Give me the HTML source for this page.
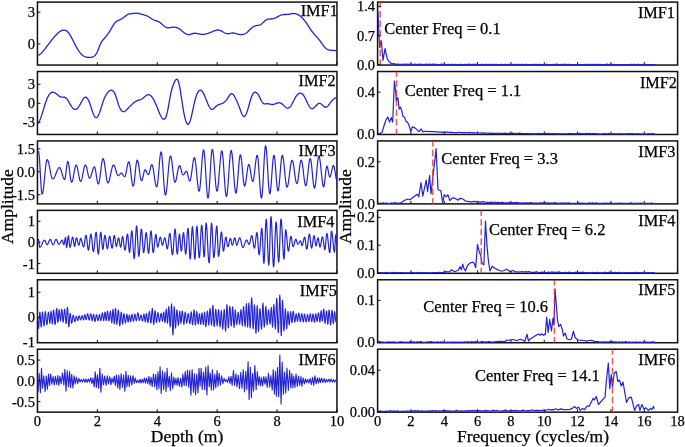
<!DOCTYPE html>
<html><head><meta charset="utf-8"><style>
html,body{margin:0;padding:0;background:#fff;}
svg{display:block;will-change:transform;filter:blur(0.3px);}
text{font-family:"Liberation Serif",serif;fill:#000;stroke:#000;stroke-width:0.25px;}
.tk{font-size:14.5px;}
.imf{font-size:16.3px;}
.cf{font-size:16.5px;}
.ax{font-size:17.5px;}
</style></head><body>
<svg width="685" height="447" viewBox="0 0 685 447">
<rect width="685" height="447" fill="#fff"/>
<clipPath id="cL0"><rect x="37.45" y="2.1" width="299.5" height="62.949999999999996"/></clipPath>
<clipPath id="cR0"><rect x="377.6" y="2.1" width="300.0" height="64.14999999999999"/></clipPath>
<rect x="37.45" y="2.1" width="299.5" height="62.949999999999996" fill="none" stroke="#111" stroke-width="1.5"/>
<rect x="377.6" y="2.1" width="300.0" height="62.949999999999996" fill="none" stroke="#111" stroke-width="1.5"/>
<line x1="37.45" y1="65.05" x2="37.45" y2="62.05" stroke="#111" stroke-width="1"/>
<line x1="97.35" y1="65.05" x2="97.35" y2="62.05" stroke="#111" stroke-width="1"/>
<line x1="157.25" y1="65.05" x2="157.25" y2="62.05" stroke="#111" stroke-width="1"/>
<line x1="217.14999999999998" y1="65.05" x2="217.14999999999998" y2="62.05" stroke="#111" stroke-width="1"/>
<line x1="277.05" y1="65.05" x2="277.05" y2="62.05" stroke="#111" stroke-width="1"/>
<line x1="336.95" y1="65.05" x2="336.95" y2="62.05" stroke="#111" stroke-width="1"/>
<line x1="377.60" y1="65.05" x2="377.60" y2="62.05" stroke="#111" stroke-width="1"/>
<line x1="410.93" y1="65.05" x2="410.93" y2="62.05" stroke="#111" stroke-width="1"/>
<line x1="444.27" y1="65.05" x2="444.27" y2="62.05" stroke="#111" stroke-width="1"/>
<line x1="477.60" y1="65.05" x2="477.60" y2="62.05" stroke="#111" stroke-width="1"/>
<line x1="510.93" y1="65.05" x2="510.93" y2="62.05" stroke="#111" stroke-width="1"/>
<line x1="544.27" y1="65.05" x2="544.27" y2="62.05" stroke="#111" stroke-width="1"/>
<line x1="577.60" y1="65.05" x2="577.60" y2="62.05" stroke="#111" stroke-width="1"/>
<line x1="610.93" y1="65.05" x2="610.93" y2="62.05" stroke="#111" stroke-width="1"/>
<line x1="644.27" y1="65.05" x2="644.27" y2="62.05" stroke="#111" stroke-width="1"/>
<line x1="677.60" y1="65.05" x2="677.60" y2="62.05" stroke="#111" stroke-width="1"/>
<path d="M37.00,55.20 37.50,55.24 38.00,55.20 38.50,55.08 39.00,54.89 39.50,54.62 40.00,54.30 40.50,53.92 41.00,53.49 41.50,53.01 42.00,52.49 42.50,51.94 43.00,51.36 43.50,50.75 44.00,50.13 44.50,49.50 45.00,48.86 45.50,48.21 46.00,47.56 46.50,46.91 47.00,46.25 47.50,45.59 48.00,44.93 48.50,44.27 49.00,43.61 49.50,42.95 50.00,42.29 50.50,41.64 51.00,40.99 51.50,40.34 52.00,39.70 52.50,39.07 53.00,38.44 53.50,37.83 54.00,37.22 54.50,36.63 55.00,36.06 55.50,35.50 56.00,34.95 56.50,34.43 57.00,33.93 57.50,33.45 58.00,33.00 58.50,32.57 59.00,32.17 59.50,31.80 60.00,31.47 60.50,31.16 61.00,30.89 61.50,30.65 62.00,30.46 62.50,30.30 63.00,30.18 63.50,30.11 64.00,30.09 64.50,30.13 65.00,30.22 65.50,30.37 66.00,30.59 66.50,30.88 67.00,31.25 67.50,31.68 68.00,32.19 68.50,32.77 69.00,33.42 69.50,34.14 70.00,34.92 70.50,35.76 71.00,36.65 71.50,37.58 72.00,38.54 72.50,39.52 73.00,40.51 73.50,41.51 74.00,42.51 74.50,43.50 75.00,44.47 75.50,45.42 76.00,46.34 76.50,47.23 77.00,48.10 77.50,48.94 78.00,49.74 78.50,50.51 79.00,51.25 79.50,51.94 80.00,52.59 80.50,53.20 81.00,53.76 81.50,54.28 82.00,54.75 82.50,55.18 83.00,55.57 83.50,55.91 84.00,56.22 84.50,56.48 85.00,56.70 85.50,56.88 86.00,57.03 86.50,57.15 87.00,57.24 87.50,57.31 88.00,57.36 88.50,57.39 89.00,57.41 89.50,57.42 90.00,57.41 90.50,57.38 91.00,57.33 91.50,57.25 92.00,57.14 92.50,56.98 93.00,56.79 93.50,56.55 94.00,56.26 94.50,55.89 95.00,55.44 95.50,54.89 96.00,54.23 96.50,53.43 97.00,52.50 97.50,51.42 98.00,50.22 98.50,48.95 99.00,47.64 99.50,46.34 100.00,45.09 100.50,43.93 101.00,42.90 101.50,42.00 102.00,41.21 102.50,40.51 103.00,39.88 103.50,39.30 104.00,38.75 104.50,38.20 105.00,37.64 105.50,37.06 106.00,36.46 106.50,35.84 107.00,35.19 107.50,34.53 108.00,33.84 108.50,33.13 109.00,32.39 109.50,31.62 110.00,30.82 110.50,30.00 111.00,29.15 111.50,28.28 112.00,27.40 112.50,26.53 113.00,25.69 113.50,24.88 114.00,24.12 114.50,23.42 115.00,22.80 115.50,22.26 116.00,21.80 116.50,21.41 117.00,21.07 117.50,20.78 118.00,20.53 118.50,20.30 119.00,20.09 119.50,19.89 120.00,19.68 120.50,19.45 121.00,19.20 121.50,18.92 122.00,18.60 122.50,18.26 123.00,17.90 123.50,17.53 124.00,17.14 124.50,16.76 125.00,16.37 125.50,16.00 126.00,15.63 126.50,15.29 127.00,14.97 127.50,14.68 128.00,14.42 128.50,14.20 129.00,14.03 129.50,13.89 130.00,13.79 130.50,13.71 131.00,13.66 131.50,13.61 132.00,13.58 132.50,13.54 133.00,13.50 133.50,13.45 134.00,13.39 134.50,13.33 135.00,13.28 135.50,13.23 136.00,13.20 136.50,13.19 137.00,13.20 137.50,13.24 138.00,13.31 138.50,13.40 139.00,13.51 139.50,13.64 140.00,13.77 140.50,13.92 141.00,14.06 141.50,14.20 142.00,14.34 142.50,14.47 143.00,14.60 143.50,14.74 144.00,14.88 144.50,15.02 145.00,15.18 145.50,15.35 146.00,15.53 146.50,15.73 147.00,15.95 147.50,16.20 148.00,16.47 148.50,16.76 149.00,17.07 149.50,17.39 150.00,17.71 150.50,18.04 151.00,18.37 151.50,18.69 152.00,19.00 152.50,19.29 153.00,19.56 153.50,19.80 154.00,20.02 154.50,20.21 155.00,20.38 155.50,20.54 156.00,20.70 156.50,20.86 157.00,21.03 157.50,21.21 158.00,21.41 158.50,21.64 159.00,21.90 159.50,22.20 160.00,22.55 160.50,22.93 161.00,23.34 161.50,23.78 162.00,24.22 162.50,24.68 163.00,25.13 163.50,25.57 164.00,25.99 164.50,26.38 165.00,26.74 165.50,27.05 166.00,27.31 166.50,27.51 167.00,27.66 167.50,27.75 168.00,27.79 168.50,27.80 169.00,27.77 169.50,27.72 170.00,27.65 170.50,27.57 171.00,27.48 171.50,27.40 172.00,27.33 172.50,27.26 173.00,27.22 173.50,27.19 174.00,27.18 174.50,27.19 175.00,27.23 175.50,27.30 176.00,27.40 176.50,27.53 177.00,27.70 177.50,27.89 178.00,28.12 178.50,28.38 179.00,28.67 179.50,28.98 180.00,29.33 180.50,29.70 181.00,30.10 181.50,30.51 182.00,30.94 182.50,31.37 183.00,31.80 183.50,32.22 184.00,32.63 184.50,33.02 185.00,33.37 185.50,33.69 186.00,33.97 186.50,34.20 187.00,34.37 187.50,34.49 188.00,34.56 188.50,34.58 189.00,34.56 189.50,34.50 190.00,34.40 190.50,34.27 191.00,34.12 191.50,33.96 192.00,33.80 192.50,33.64 193.00,33.50 193.50,33.38 194.00,33.30 194.50,33.26 195.00,33.25 195.50,33.28 196.00,33.33 196.50,33.41 197.00,33.50 197.50,33.61 198.00,33.73 198.50,33.85 199.00,33.97 199.50,34.08 200.00,34.18 200.50,34.27 201.00,34.34 201.50,34.38 202.00,34.40 202.50,34.41 203.00,34.39 203.50,34.36 204.00,34.30 204.50,34.24 205.00,34.15 205.50,34.05 206.00,33.94 206.50,33.81 207.00,33.68 207.50,33.53 208.00,33.37 208.50,33.20 209.00,33.02 209.50,32.84 210.00,32.64 210.50,32.45 211.00,32.25 211.50,32.04 212.00,31.83 212.50,31.62 213.00,31.41 213.50,31.20 214.00,30.99 214.50,30.79 215.00,30.60 215.50,30.42 216.00,30.27 216.50,30.15 217.00,30.06 217.50,30.01 218.00,30.00 218.50,30.04 219.00,30.13 219.50,30.26 220.00,30.42 220.50,30.62 221.00,30.84 221.50,31.09 222.00,31.36 222.50,31.65 223.00,31.94 223.50,32.23 224.00,32.52 224.50,32.79 225.00,33.04 225.50,33.26 226.00,33.45 226.50,33.60 227.00,33.70 227.50,33.75 228.00,33.75 228.50,33.71 229.00,33.64 229.50,33.55 230.00,33.45 230.50,33.34 231.00,33.23 231.50,33.14 232.00,33.06 232.50,33.01 233.00,33.00 233.50,33.03 234.00,33.10 234.50,33.20 235.00,33.32 235.50,33.46 236.00,33.60 236.50,33.75 237.00,33.90 237.50,34.04 238.00,34.16 238.50,34.27 239.00,34.36 239.50,34.44 240.00,34.50 240.50,34.53 241.00,34.55 241.50,34.55 242.00,34.52 242.50,34.46 243.00,34.38 243.50,34.27 244.00,34.13 244.50,33.95 245.00,33.74 245.50,33.48 246.00,33.19 246.50,32.85 247.00,32.46 247.50,32.04 248.00,31.57 248.50,31.09 249.00,30.58 249.50,30.07 250.00,29.56 250.50,29.06 251.00,28.58 251.50,28.12 252.00,27.70 252.50,27.32 253.00,26.98 253.50,26.69 254.00,26.43 254.50,26.20 255.00,26.01 255.50,25.85 256.00,25.73 256.50,25.62 257.00,25.53 257.50,25.45 258.00,25.37 258.50,25.27 259.00,25.15 259.50,25.01 260.00,24.82 260.50,24.59 261.00,24.30 261.50,23.95 262.00,23.55 262.50,23.11 263.00,22.64 263.50,22.16 264.00,21.68 264.50,21.21 265.00,20.77 265.50,20.37 266.00,20.02 266.50,19.74 267.00,19.52 267.50,19.35 268.00,19.23 268.50,19.15 269.00,19.10 269.50,19.06 270.00,19.04 270.50,19.01 271.00,18.98 271.50,18.93 272.00,18.87 272.50,18.79 273.00,18.70 273.50,18.58 274.00,18.45 274.50,18.30 275.00,18.12 275.50,17.92 276.00,17.70 276.50,17.45 277.00,17.18 277.50,16.90 278.00,16.61 278.50,16.32 279.00,16.04 279.50,15.76 280.00,15.51 280.50,15.27 281.00,15.07 281.50,14.90 282.00,14.77 282.50,14.68 283.00,14.60 283.50,14.55 284.00,14.52 284.50,14.51 285.00,14.50 285.50,14.50 286.00,14.49 286.50,14.49 287.00,14.47 287.50,14.45 288.00,14.40 288.50,14.33 289.00,14.25 289.50,14.16 290.00,14.05 290.50,13.95 291.00,13.84 291.50,13.74 292.00,13.65 292.50,13.58 293.00,13.53 293.50,13.50 294.00,13.50 294.50,13.53 295.00,13.60 295.50,13.70 296.00,13.83 296.50,13.99 297.00,14.18 297.50,14.40 298.00,14.65 298.50,14.93 299.00,15.23 299.50,15.56 300.00,15.92 300.50,16.31 301.00,16.73 301.50,17.18 302.00,17.66 302.50,18.16 303.00,18.70 303.50,19.27 304.00,19.86 304.50,20.48 305.00,21.13 305.50,21.81 306.00,22.50 306.50,23.21 307.00,23.95 307.50,24.70 308.00,25.47 308.50,26.24 309.00,27.03 309.50,27.81 310.00,28.58 310.50,29.34 311.00,30.09 311.50,30.81 312.00,31.50 312.50,32.16 313.00,32.79 313.50,33.39 314.00,33.97 314.50,34.54 315.00,35.09 315.50,35.63 316.00,36.17 316.50,36.71 317.00,37.25 317.50,37.81 318.00,38.37 318.50,38.96 319.00,39.57 319.50,40.20 320.00,40.86 320.50,41.55 321.00,42.25 321.50,42.96 322.00,43.67 322.50,44.38 323.00,45.06 323.50,45.73 324.00,46.36 324.50,46.96 325.00,47.51 325.50,48.00 326.00,48.43 326.50,48.81 327.00,49.14 327.50,49.41 328.00,49.64 328.50,49.83 329.00,49.98 329.50,50.11 330.00,50.20 330.50,50.27 331.00,50.32 331.50,50.36 332.00,50.38 332.50,50.40 333.00,50.42 333.50,50.44 334.00,50.47 334.50,50.50 335.00,50.56 335.50,50.63 336.00,50.72 336.50,50.85 337.00,51.00" fill="none" stroke="#2323d2" stroke-width="1.3" stroke-linejoin="round" clip-path="url(#cL0)"/>
<path d="M377.90,11.50 378.50,25.00 379.10,38.00 379.80,47.50 381.30,41.00 383.00,60.30 385.00,48.50 387.20,58.60 389.20,61.80 392.00,63.90 394.00,63.68 396.00,64.30 397.75,64.03 399.50,64.31 401.25,64.35 403.00,64.25 404.75,64.13 406.50,64.33 408.25,64.02 410.00,64.50 411.76,64.16 413.53,64.48 415.29,64.03 417.06,64.48 418.82,64.21 420.59,64.45 422.35,64.24 424.12,64.47 425.88,64.06 427.65,64.48 429.41,64.18 431.18,64.50 432.94,64.08 434.71,64.44 436.47,64.39 438.24,64.55 440.00,64.60 441.71,64.17 443.43,64.48 445.14,64.25 446.86,64.54 448.57,64.41 450.29,64.58 452.00,64.29 453.71,64.59 455.43,64.46 457.14,64.50 458.86,64.59 460.57,64.47 462.29,64.56 464.00,64.52 465.71,64.33 467.43,64.57 469.14,64.12 470.86,64.55 472.57,64.35 474.29,64.47 476.00,64.27 477.71,64.54 479.43,64.55 481.14,64.46 482.86,64.31 484.57,64.51 486.29,64.30 488.00,64.58 489.71,64.32 491.43,64.52 493.14,64.31 494.86,64.57 496.57,64.25 498.29,64.59 500.00,64.60 501.71,64.44 503.43,64.59 505.14,64.23 506.86,64.54 508.57,64.38 510.29,64.61 512.00,64.40 513.71,64.59 515.43,64.47 517.14,64.57 518.86,64.28 520.57,64.52 522.29,64.46 524.00,64.54 525.71,64.39 527.43,64.55 529.14,64.48 530.86,64.52 532.57,64.32 534.29,64.63 536.00,64.37 537.71,64.55 539.43,64.28 541.14,64.60 542.86,64.53 544.57,64.58 546.29,64.31 548.00,64.60 549.71,64.59 551.43,64.59 553.14,64.31 554.86,64.55 556.57,64.20 558.29,64.64 560.00,64.70 561.73,64.30 563.45,64.60 565.18,64.21 566.91,64.62 568.64,64.27 570.36,64.62 572.09,64.56 573.82,64.56 575.55,64.56 577.27,64.65 579.00,64.67 580.73,64.70 582.45,64.53 584.18,64.66 585.91,64.34 587.64,64.70 589.36,64.25 591.09,64.58 592.82,64.25 594.55,64.58 596.27,64.37 598.00,64.59 599.73,64.26 601.45,64.57 603.18,64.56 604.91,64.56 606.64,64.20 608.36,64.60 610.09,64.39 611.82,64.61 613.55,64.36 615.27,64.56 617.00,64.55 618.73,64.64 620.45,64.54 622.18,64.59 623.91,64.68 625.64,64.64 627.36,64.50 629.09,64.64 630.82,64.42 632.55,64.66 634.27,64.25 636.00,64.64 637.73,64.22 639.45,64.56 641.18,64.53 642.91,64.64 644.64,64.39 646.36,64.64 648.09,64.65 649.82,64.66 651.55,64.61 653.27,64.64 655.00,64.70" fill="none" stroke="#2323d2" stroke-width="1.2" stroke-linejoin="round" clip-path="url(#cR0)"/>
<line x1="380.20" y1="2.10" x2="380.20" y2="65.05" stroke="#e8302a" stroke-opacity="0.8" stroke-width="1.5" stroke-dasharray="6.5,3.2" stroke-dashoffset="0.9"/>
<line x1="37.45" y1="12.2" x2="40.45" y2="12.2" stroke="#111" stroke-width="1"/>
<text transform="translate(34.95,17.20) scale(1,1.0)" class="tk" text-anchor="end">3</text>
<line x1="37.45" y1="43.9" x2="40.45" y2="43.9" stroke="#111" stroke-width="1"/>
<text transform="translate(34.95,48.90) scale(1,1.0)" class="tk" text-anchor="end">0</text>
<line x1="377.6" y1="6.4" x2="380.6" y2="6.4" stroke="#111" stroke-width="1"/>
<text transform="translate(375.10,11.40) scale(1,1.0)" class="tk" text-anchor="end">1.4</text>
<line x1="377.6" y1="35.6" x2="380.6" y2="35.6" stroke="#111" stroke-width="1"/>
<text transform="translate(375.10,40.60) scale(1,1.0)" class="tk" text-anchor="end">0.7</text>
<line x1="377.6" y1="64.8" x2="380.6" y2="64.8" stroke="#111" stroke-width="1"/>
<text transform="translate(375.10,69.80) scale(1,1.0)" class="tk" text-anchor="end">0.0</text>
<text transform="translate(300.70,16.20) scale(1,1.0)" class="imf" text-anchor="start">IMF1</text>
<text transform="translate(637.90,18.10) scale(1,1.0)" class="imf" text-anchor="start">IMF1</text>
<clipPath id="cL1"><rect x="37.45" y="71.52" width="299.5" height="62.95"/></clipPath>
<clipPath id="cR1"><rect x="377.6" y="71.52" width="300.0" height="64.15"/></clipPath>
<rect x="37.45" y="71.52" width="299.5" height="62.95" fill="none" stroke="#111" stroke-width="1.5"/>
<rect x="377.6" y="71.52" width="300.0" height="62.95" fill="none" stroke="#111" stroke-width="1.5"/>
<line x1="37.45" y1="134.47" x2="37.45" y2="131.47" stroke="#111" stroke-width="1"/>
<line x1="97.35" y1="134.47" x2="97.35" y2="131.47" stroke="#111" stroke-width="1"/>
<line x1="157.25" y1="134.47" x2="157.25" y2="131.47" stroke="#111" stroke-width="1"/>
<line x1="217.14999999999998" y1="134.47" x2="217.14999999999998" y2="131.47" stroke="#111" stroke-width="1"/>
<line x1="277.05" y1="134.47" x2="277.05" y2="131.47" stroke="#111" stroke-width="1"/>
<line x1="336.95" y1="134.47" x2="336.95" y2="131.47" stroke="#111" stroke-width="1"/>
<line x1="377.60" y1="134.47" x2="377.60" y2="131.47" stroke="#111" stroke-width="1"/>
<line x1="410.93" y1="134.47" x2="410.93" y2="131.47" stroke="#111" stroke-width="1"/>
<line x1="444.27" y1="134.47" x2="444.27" y2="131.47" stroke="#111" stroke-width="1"/>
<line x1="477.60" y1="134.47" x2="477.60" y2="131.47" stroke="#111" stroke-width="1"/>
<line x1="510.93" y1="134.47" x2="510.93" y2="131.47" stroke="#111" stroke-width="1"/>
<line x1="544.27" y1="134.47" x2="544.27" y2="131.47" stroke="#111" stroke-width="1"/>
<line x1="577.60" y1="134.47" x2="577.60" y2="131.47" stroke="#111" stroke-width="1"/>
<line x1="610.93" y1="134.47" x2="610.93" y2="131.47" stroke="#111" stroke-width="1"/>
<line x1="644.27" y1="134.47" x2="644.27" y2="131.47" stroke="#111" stroke-width="1"/>
<line x1="677.60" y1="134.47" x2="677.60" y2="131.47" stroke="#111" stroke-width="1"/>
<path d="M37.70,123.20 38.20,122.82 38.70,122.22 39.20,121.42 39.70,120.43 40.20,119.28 40.70,118.00 41.20,116.60 41.70,115.10 42.20,113.54 42.70,111.92 43.20,110.27 43.70,108.61 44.20,106.97 44.70,105.36 45.20,103.81 45.70,102.32 46.20,100.91 46.70,99.58 47.20,98.34 47.70,97.21 48.20,96.20 48.70,95.31 49.20,94.54 49.70,93.89 50.20,93.36 50.70,92.93 51.20,92.60 51.70,92.38 52.20,92.24 52.70,92.20 53.20,92.24 53.70,92.36 54.20,92.54 54.70,92.78 55.20,93.07 55.70,93.41 56.20,93.77 56.70,94.16 57.20,94.56 57.70,94.96 58.20,95.36 58.70,95.75 59.20,96.10 59.70,96.42 60.20,96.69 60.70,96.90 61.20,97.05 61.70,97.13 62.20,97.17 62.70,97.17 63.20,97.18 63.70,97.20 64.20,97.25 64.70,97.35 65.20,97.54 65.70,97.81 66.20,98.20 66.70,98.72 67.20,99.35 67.70,100.07 68.20,100.87 68.70,101.72 69.20,102.59 69.70,103.48 70.20,104.36 70.70,105.20 71.20,105.99 71.70,106.72 72.20,107.39 72.70,107.97 73.20,108.47 73.70,108.88 74.20,109.18 74.70,109.37 75.20,109.45 75.70,109.40 76.20,109.22 76.70,108.92 77.20,108.50 77.70,107.98 78.20,107.37 78.70,106.68 79.20,105.92 79.70,105.10 80.20,104.24 80.70,103.34 81.20,102.41 81.70,101.49 82.20,100.60 82.70,99.76 83.20,99.00 83.70,98.35 84.20,97.82 84.70,97.44 85.20,97.24 85.70,97.23 86.20,97.40 86.70,97.75 87.20,98.27 87.70,98.96 88.20,99.80 88.70,100.80 89.20,101.94 89.70,103.23 90.20,104.64 90.70,106.13 91.20,107.66 91.70,109.21 92.20,110.72 92.70,112.16 93.20,113.50 93.70,114.69 94.20,115.72 94.70,116.55 95.20,117.18 95.70,117.57 96.20,117.70 96.70,117.56 97.20,117.17 97.70,116.54 98.20,115.71 98.70,114.69 99.20,113.50 99.70,112.17 100.20,110.73 100.70,109.21 101.20,107.64 101.70,106.04 102.20,104.45 102.70,102.89 103.20,101.40 103.70,100.00 104.20,98.72 104.70,97.56 105.20,96.50 105.70,95.54 106.20,94.68 106.70,93.90 107.20,93.19 107.70,92.55 108.20,91.98 108.70,91.48 109.20,91.05 109.70,90.71 110.20,90.45 110.70,90.28 111.20,90.20 111.70,90.23 112.20,90.37 112.70,90.64 113.20,91.06 113.70,91.63 114.20,92.39 114.70,93.33 115.20,94.49 115.70,95.83 116.20,97.32 116.70,98.91 117.20,100.54 117.70,102.16 118.20,103.73 118.70,105.20 119.20,106.52 119.70,107.68 120.20,108.70 120.70,109.56 121.20,110.27 121.70,110.84 122.20,111.27 122.70,111.56 123.20,111.70 123.70,111.71 124.20,111.60 124.70,111.38 125.20,111.07 125.70,110.68 126.20,110.24 126.70,109.75 127.20,109.23 127.70,108.70 128.20,108.17 128.70,107.64 129.20,107.12 129.70,106.60 130.20,106.09 130.70,105.59 131.20,105.09 131.70,104.61 132.20,104.13 132.70,103.67 133.20,103.23 133.70,102.80 134.20,102.40 134.70,102.02 135.20,101.68 135.70,101.36 136.20,101.08 136.70,100.83 137.20,100.62 137.70,100.45 138.20,100.31 138.70,100.18 139.20,100.05 139.70,99.92 140.20,99.76 140.70,99.58 141.20,99.36 141.70,99.08 142.20,98.75 142.70,98.38 143.20,97.98 143.70,97.55 144.20,97.12 144.70,96.69 145.20,96.27 145.70,95.88 146.20,95.53 146.70,95.22 147.20,94.97 147.70,94.79 148.20,94.70 148.70,94.70 149.20,94.79 149.70,94.97 150.20,95.25 150.70,95.61 151.20,96.07 151.70,96.63 152.20,97.27 152.70,98.00 153.20,98.81 153.70,99.70 154.20,100.66 154.70,101.68 155.20,102.76 155.70,103.89 156.20,105.06 156.70,106.26 157.20,107.50 157.70,108.76 158.20,110.02 158.70,111.28 159.20,112.50 159.70,113.67 160.20,114.78 160.70,115.81 161.20,116.73 161.70,117.54 162.20,118.20 162.70,118.71 163.20,119.05 163.70,119.20 164.20,119.14 164.70,118.83 165.20,118.26 165.70,117.39 166.20,116.18 166.70,114.62 167.20,112.67 167.70,110.35 168.20,107.76 168.70,104.99 169.20,102.13 169.70,99.29 170.20,96.54 170.70,94.00 171.20,91.73 171.70,89.73 172.20,87.96 172.70,86.39 173.20,85.01 173.70,83.76 174.20,82.63 174.70,81.59 175.20,80.65 175.70,79.88 176.20,79.37 176.70,79.17 177.20,79.34 177.70,79.91 178.20,80.91 178.70,82.38 179.20,84.35 179.70,86.79 180.20,89.61 180.70,92.71 181.20,96.00 181.70,99.37 182.20,102.74 182.70,106.00 183.20,109.07 183.70,111.91 184.20,114.51 184.70,116.85 185.20,118.91 185.70,120.66 186.20,122.10 186.70,123.20 187.20,123.94 187.70,124.30 188.20,124.28 188.70,123.88 189.20,123.14 189.70,122.08 190.20,120.72 190.70,119.10 191.20,117.22 191.70,115.15 192.20,112.92 192.70,110.60 193.20,108.24 193.70,105.90 194.20,103.63 194.70,101.50 195.20,99.55 195.70,97.78 196.20,96.21 196.70,94.82 197.20,93.61 197.70,92.59 198.20,91.74 198.70,91.08 199.20,90.60 199.70,90.30 200.20,90.17 200.70,90.22 201.20,90.43 201.70,90.81 202.20,91.34 202.70,92.02 203.20,92.85 203.70,93.81 204.20,94.87 204.70,96.03 205.20,97.24 205.70,98.50 206.20,99.77 206.70,101.04 207.20,102.28 207.70,103.47 208.20,104.58 208.70,105.62 209.20,106.56 209.70,107.38 210.20,108.09 210.70,108.65 211.20,109.07 211.70,109.33 212.20,109.41 212.70,109.32 213.20,109.09 213.70,108.74 214.20,108.31 214.70,107.82 215.20,107.29 215.70,106.77 216.20,106.27 216.70,105.83 217.20,105.46 217.70,105.14 218.20,104.87 218.70,104.65 219.20,104.45 219.70,104.28 220.20,104.12 220.70,103.97 221.20,103.81 221.70,103.63 222.20,103.43 222.70,103.20 223.20,102.93 223.70,102.62 224.20,102.26 224.70,101.85 225.20,101.38 225.70,100.86 226.20,100.27 226.70,99.62 227.20,98.90 227.70,98.13 228.20,97.33 228.70,96.54 229.20,95.78 229.70,95.10 230.20,94.51 230.70,94.06 231.20,93.78 231.70,93.69 232.20,93.81 232.70,94.12 233.20,94.59 233.70,95.21 234.20,95.94 234.70,96.78 235.20,97.70 235.70,98.68 236.20,99.71 236.70,100.80 237.20,101.93 237.70,103.11 238.20,104.32 238.70,105.58 239.20,106.87 239.70,108.19 240.20,109.54 240.70,110.90 241.20,112.21 241.70,113.44 242.20,114.53 242.70,115.43 243.20,116.11 243.70,116.50 244.20,116.58 244.70,116.35 245.20,115.84 245.70,115.07 246.20,114.06 246.70,112.84 247.20,111.43 247.70,109.85 248.20,108.14 248.70,106.34 249.20,104.50 249.70,102.67 250.20,100.89 250.70,99.22 251.20,97.70 251.70,96.37 252.20,95.23 252.70,94.28 253.20,93.51 253.70,92.93 254.20,92.51 254.70,92.27 255.20,92.19 255.70,92.26 256.20,92.49 256.70,92.85 257.20,93.34 257.70,93.96 258.20,94.68 258.70,95.50 259.20,96.41 259.70,97.38 260.20,98.38 260.70,99.38 261.20,100.35 261.70,101.26 262.20,102.07 262.70,102.76 263.20,103.30 263.70,103.66 264.20,103.87 264.70,103.96 265.20,103.96 265.70,103.90 266.20,103.81 266.70,103.73 267.20,103.69 267.70,103.70 268.20,103.75 268.70,103.83 269.20,103.93 269.70,104.05 270.20,104.18 270.70,104.30 271.20,104.40 271.70,104.48 272.20,104.52 272.70,104.52 273.20,104.47 273.70,104.37 274.20,104.22 274.70,104.03 275.20,103.83 275.70,103.61 276.20,103.40 276.70,103.19 277.20,103.01 277.70,102.86 278.20,102.75 278.70,102.70 279.20,102.71 279.70,102.80 280.20,102.95 280.70,103.15 281.20,103.42 281.70,103.73 282.20,104.09 282.70,104.49 283.20,104.92 283.70,105.39 284.20,105.87 284.70,106.36 285.20,106.82 285.70,107.25 286.20,107.62 286.70,107.92 287.20,108.12 287.70,108.21 288.20,108.17 288.70,107.98 289.20,107.67 289.70,107.24 290.20,106.69 290.70,106.05 291.20,105.32 291.70,104.50 292.20,103.62 292.70,102.68 293.20,101.71 293.70,100.72 294.20,99.74 294.70,98.78 295.20,97.85 295.70,96.99 296.20,96.20 296.70,95.50 297.20,94.90 297.70,94.39 298.20,93.97 298.70,93.64 299.20,93.40 299.70,93.25 300.20,93.18 300.70,93.21 301.20,93.32 301.70,93.53 302.20,93.85 302.70,94.28 303.20,94.83 303.70,95.50 304.20,96.29 304.70,97.19 305.20,98.17 305.70,99.21 306.20,100.29 306.70,101.38 307.20,102.46 307.70,103.51 308.20,104.50 308.70,105.42 309.20,106.25 309.70,106.97 310.20,107.59 310.70,108.08 311.20,108.44 311.70,108.65 312.20,108.70 312.70,108.60 313.20,108.36 313.70,108.02 314.20,107.59 314.70,107.09 315.20,106.55 315.70,106.00 316.20,105.45 316.70,104.93 317.20,104.44 317.70,104.02 318.20,103.68 318.70,103.44 319.20,103.31 319.70,103.32 320.20,103.46 320.70,103.72 321.20,104.06 321.70,104.47 322.20,104.92 322.70,105.39 323.20,105.85 323.70,106.28 324.20,106.65 324.70,106.96 325.20,107.16 325.70,107.25 326.20,107.20 326.70,106.99 327.20,106.64 327.70,106.17 328.20,105.61 328.70,104.98 329.20,104.30 329.70,103.59 330.20,102.89 330.70,102.20 331.20,101.56 331.70,100.96 332.20,100.40 332.70,99.90 333.20,99.45 333.70,99.04 334.20,98.69 334.70,98.39 335.20,98.14 335.70,97.94 336.20,97.80 336.70,97.72" fill="none" stroke="#2323d2" stroke-width="1.3" stroke-linejoin="round" clip-path="url(#cL1)"/>
<path d="M378.00,134.00 379.40,133.70 382.10,132.30 384.10,125.50 385.90,120.00 387.80,117.00 389.60,122.10 391.20,117.60 392.70,122.10 394.40,81.10 395.50,90.00 396.40,100.90 397.80,97.50 399.20,109.10 400.50,107.10 401.90,111.20 402.80,116.00 404.60,117.30 406.00,121.40 407.40,122.10 409.10,125.50 410.80,131.50 412.30,126.90 415.30,128.10 419.10,131.60 421.10,128.90 422.90,132.00 425.20,131.30 433.40,131.60 445.00,132.40 446.95,131.90 448.90,132.47 450.85,132.13 452.80,132.56 454.75,132.56 456.70,132.80 458.65,132.25 460.60,132.64 462.55,132.58 464.50,132.62 466.45,132.67 468.40,132.80 470.20,132.37 472.00,132.78 473.80,132.67 475.60,132.99 477.40,132.51 479.20,133.00 481.00,132.92 482.80,133.14 484.60,132.86 486.40,133.24 488.20,133.05 490.00,133.40 491.74,133.19 493.48,133.42 495.22,133.30 496.96,133.32 498.70,133.00 500.43,133.38 502.17,133.24 503.91,133.36 505.65,133.05 507.39,133.53 509.13,133.25 510.87,133.44 512.61,133.15 514.35,133.58 516.09,133.38 517.83,133.59 519.57,133.15 521.30,133.58 523.04,133.49 524.78,133.66 526.52,133.71 528.26,133.69 530.00,133.80 531.71,133.67 533.41,133.79 535.12,133.76 536.83,133.78 538.54,133.40 540.24,133.80 541.95,133.49 543.66,133.73 545.37,133.26 547.07,133.77 548.78,133.39 550.49,133.85 552.20,133.48 553.90,133.69 555.61,133.84 557.32,133.71 559.02,133.79 560.73,133.77 562.44,133.88 564.15,133.89 565.85,133.82 567.56,133.75 569.27,133.44 570.98,133.80 572.68,133.53 574.39,133.87 576.10,133.61 577.80,133.85 579.51,133.37 581.22,133.86 582.93,133.50 584.63,133.89 586.34,133.41 588.05,133.81 589.76,133.38 591.46,133.93 593.17,133.46 594.88,133.90 596.59,133.68 598.29,133.90 600.00,134.00 601.72,133.95 603.44,133.85 605.16,133.65 606.88,133.99 608.59,133.57 610.31,134.00 612.03,133.79 613.75,133.90 615.47,133.75 617.19,134.02 618.91,133.66 620.62,133.97 622.34,133.81 624.06,134.01 625.78,133.94 627.50,133.87 629.22,133.69 630.94,133.95 632.66,133.59 634.38,133.99 636.09,133.97 637.81,133.96 639.53,133.83 641.25,134.00 642.97,134.03 644.69,134.01 646.41,134.05 648.12,133.93 649.84,133.87 651.56,133.96 653.28,133.74 655.00,134.10" fill="none" stroke="#2323d2" stroke-width="1.2" stroke-linejoin="round" clip-path="url(#cR1)"/>
<line x1="396.50" y1="71.52" x2="396.50" y2="134.47" stroke="#e8302a" stroke-opacity="0.8" stroke-width="1.5" stroke-dasharray="6.5,3.2" stroke-dashoffset="0.9"/>
<line x1="37.45" y1="84.3" x2="40.45" y2="84.3" stroke="#111" stroke-width="1"/>
<text transform="translate(34.95,89.30) scale(1,1.0)" class="tk" text-anchor="end">3</text>
<line x1="37.45" y1="103.3" x2="40.45" y2="103.3" stroke="#111" stroke-width="1"/>
<text transform="translate(34.95,108.30) scale(1,1.0)" class="tk" text-anchor="end">0</text>
<line x1="37.45" y1="122.4" x2="40.45" y2="122.4" stroke="#111" stroke-width="1"/>
<text transform="translate(34.95,127.40) scale(1,1.0)" class="tk" text-anchor="end">-3</text>
<line x1="377.6" y1="92.2" x2="380.6" y2="92.2" stroke="#111" stroke-width="1"/>
<text transform="translate(375.10,97.20) scale(1,1.0)" class="tk" text-anchor="end">0.4</text>
<line x1="377.6" y1="134.2" x2="380.6" y2="134.2" stroke="#111" stroke-width="1"/>
<text transform="translate(375.10,139.20) scale(1,1.0)" class="tk" text-anchor="end">0.0</text>
<text transform="translate(298.60,86.20) scale(1,1.0)" class="imf" text-anchor="start">IMF2</text>
<text transform="translate(639.90,88.10) scale(1,1.0)" class="imf" text-anchor="start">IMF2</text>
<clipPath id="cL2"><rect x="37.45" y="140.94" width="299.5" height="62.94999999999999"/></clipPath>
<clipPath id="cR2"><rect x="377.6" y="140.94" width="300.0" height="64.14999999999999"/></clipPath>
<rect x="37.45" y="140.94" width="299.5" height="62.94999999999999" fill="none" stroke="#111" stroke-width="1.5"/>
<rect x="377.6" y="140.94" width="300.0" height="62.94999999999999" fill="none" stroke="#111" stroke-width="1.5"/>
<line x1="37.45" y1="203.89" x2="37.45" y2="200.89" stroke="#111" stroke-width="1"/>
<line x1="97.35" y1="203.89" x2="97.35" y2="200.89" stroke="#111" stroke-width="1"/>
<line x1="157.25" y1="203.89" x2="157.25" y2="200.89" stroke="#111" stroke-width="1"/>
<line x1="217.14999999999998" y1="203.89" x2="217.14999999999998" y2="200.89" stroke="#111" stroke-width="1"/>
<line x1="277.05" y1="203.89" x2="277.05" y2="200.89" stroke="#111" stroke-width="1"/>
<line x1="336.95" y1="203.89" x2="336.95" y2="200.89" stroke="#111" stroke-width="1"/>
<line x1="377.60" y1="203.89" x2="377.60" y2="200.89" stroke="#111" stroke-width="1"/>
<line x1="410.93" y1="203.89" x2="410.93" y2="200.89" stroke="#111" stroke-width="1"/>
<line x1="444.27" y1="203.89" x2="444.27" y2="200.89" stroke="#111" stroke-width="1"/>
<line x1="477.60" y1="203.89" x2="477.60" y2="200.89" stroke="#111" stroke-width="1"/>
<line x1="510.93" y1="203.89" x2="510.93" y2="200.89" stroke="#111" stroke-width="1"/>
<line x1="544.27" y1="203.89" x2="544.27" y2="200.89" stroke="#111" stroke-width="1"/>
<line x1="577.60" y1="203.89" x2="577.60" y2="200.89" stroke="#111" stroke-width="1"/>
<line x1="610.93" y1="203.89" x2="610.93" y2="200.89" stroke="#111" stroke-width="1"/>
<line x1="644.27" y1="203.89" x2="644.27" y2="200.89" stroke="#111" stroke-width="1"/>
<line x1="677.60" y1="203.89" x2="677.60" y2="200.89" stroke="#111" stroke-width="1"/>
<path d="M37.20,150.50 37.46,150.61 37.72,150.88 37.98,151.22 38.24,151.49 38.50,151.60 38.76,152.13 39.01,153.70 39.27,156.24 39.53,159.60 39.79,163.63 40.04,168.12 40.30,172.85 40.56,177.58 40.81,182.07 41.07,186.10 41.33,189.46 41.59,192.00 41.84,193.57 42.10,194.10 42.36,193.89 42.61,193.26 42.87,192.22 43.12,190.81 43.38,189.05 43.63,186.99 43.89,184.68 44.14,182.18 44.40,179.55 44.65,176.85 44.91,174.15 45.16,171.52 45.41,169.02 45.67,166.71 45.93,164.65 46.18,162.89 46.44,161.48 46.69,160.44 46.95,159.81 47.20,159.60 47.45,159.70 47.70,159.99 47.95,160.48 48.20,161.14 48.45,161.97 48.70,162.95 48.95,164.06 49.20,165.27 49.45,166.57 49.70,167.92 49.95,169.30 50.20,170.68 50.45,172.03 50.70,173.33 50.95,174.54 51.20,175.65 51.45,176.63 51.70,177.46 51.95,178.12 52.20,178.61 52.45,178.90 52.70,179.00 52.95,178.96 53.20,178.85 53.46,178.66 53.71,178.39 53.96,178.06 54.21,177.67 54.46,177.21 54.71,176.70 54.97,176.15 55.22,175.56 55.47,174.93 55.72,174.29 55.97,173.63 56.23,172.97 56.48,172.31 56.73,171.67 56.98,171.04 57.23,170.45 57.49,169.90 57.74,169.39 57.99,168.93 58.24,168.54 58.49,168.21 58.74,167.94 59.00,167.75 59.25,167.64 59.50,167.60 59.76,167.67 60.01,167.89 60.27,168.25 60.52,168.74 60.77,169.34 61.03,170.05 61.28,170.85 61.54,171.71 61.79,172.62 62.05,173.55 62.30,174.48 62.56,175.39 62.81,176.25 63.07,177.05 63.32,177.76 63.58,178.36 63.83,178.85 64.09,179.21 64.34,179.43 64.60,179.50 64.87,179.19 65.13,178.29 65.40,176.86 65.67,175.00 65.93,172.83 66.20,170.50 66.47,168.17 66.73,166.00 67.00,164.14 67.27,162.71 67.53,161.81 67.80,161.50 68.05,161.73 68.31,162.39 68.56,163.48 68.81,164.92 69.07,166.67 69.32,168.65 69.57,170.77 69.83,172.93 70.08,175.05 70.33,177.02 70.59,178.78 70.84,180.22 71.09,181.31 71.35,181.97 71.60,182.20 71.86,182.07 72.11,181.68 72.37,181.05 72.62,180.20 72.88,179.15 73.13,177.92 73.39,176.57 73.64,175.13 73.90,173.65 74.16,172.17 74.41,170.73 74.67,169.38 74.92,168.15 75.18,167.10 75.43,166.25 75.69,165.62 75.94,165.23 76.20,165.10 76.46,165.24 76.72,165.65 76.98,166.32 77.24,167.23 77.49,168.34 77.75,169.62 78.01,171.02 78.27,172.50 78.53,174.00 78.79,175.48 79.05,176.88 79.31,178.16 79.56,179.27 79.82,180.18 80.08,180.85 80.34,181.26 80.60,181.40 80.85,181.29 81.11,180.96 81.36,180.41 81.61,179.67 81.86,178.75 82.12,177.68 82.37,176.49 82.62,175.21 82.87,173.88 83.13,172.52 83.38,171.19 83.63,169.91 83.88,168.72 84.14,167.65 84.39,166.73 84.64,165.99 84.89,165.44 85.15,165.11 85.40,165.00 85.66,165.13 85.93,165.50 86.19,166.10 86.45,166.92 86.71,167.91 86.97,169.04 87.24,170.27 87.50,171.55 87.76,172.83 88.03,174.06 88.29,175.19 88.55,176.18 88.81,177.00 89.07,177.60 89.34,177.97 89.60,178.10 89.85,178.02 90.11,177.80 90.36,177.43 90.61,176.92 90.86,176.29 91.12,175.56 91.37,174.75 91.62,173.87 91.87,172.96 92.13,172.04 92.38,171.13 92.63,170.25 92.88,169.44 93.14,168.71 93.39,168.08 93.64,167.57 93.89,167.20 94.15,166.98 94.40,166.90 94.66,167.09 94.92,167.64 95.18,168.53 95.44,169.73 95.70,171.18 95.96,172.81 96.22,174.56 96.48,176.34 96.74,178.09 97.00,179.72 97.26,181.17 97.52,182.37 97.78,183.26 98.04,183.81 98.30,184.00 98.55,183.83 98.81,183.31 99.06,182.47 99.31,181.32 99.56,179.90 99.82,178.25 100.07,176.40 100.32,174.42 100.57,172.35 100.83,170.25 101.08,168.18 101.33,166.20 101.58,164.35 101.84,162.70 102.09,161.28 102.34,160.13 102.59,159.29 102.85,158.77 103.10,158.60 103.35,158.77 103.61,159.26 103.86,160.07 104.11,161.17 104.36,162.54 104.62,164.13 104.87,165.90 105.12,167.81 105.37,169.79 105.63,171.81 105.88,173.79 106.13,175.70 106.38,177.47 106.64,179.06 106.89,180.43 107.14,181.53 107.39,182.34 107.65,182.83 107.90,183.00 108.15,182.91 108.41,182.64 108.66,182.19 108.92,181.57 109.17,180.80 109.43,179.89 109.68,178.87 109.94,177.74 110.19,176.54 110.45,175.28 110.70,174.00 110.95,172.72 111.21,171.46 111.46,170.26 111.72,169.13 111.97,168.11 112.23,167.20 112.48,166.43 112.74,165.81 112.99,165.36 113.25,165.09 113.50,165.00 113.75,165.07 114.01,165.29 114.26,165.64 114.51,166.12 114.76,166.71 115.02,167.40 115.27,168.17 115.52,169.00 115.77,169.86 116.03,170.74 116.28,171.60 116.53,172.43 116.78,173.20 117.04,173.89 117.29,174.48 117.54,174.96 117.79,175.31 118.05,175.53 118.30,175.60 118.56,175.55 118.83,175.40 119.09,175.17 119.35,174.87 119.62,174.53 119.88,174.17 120.15,173.83 120.41,173.53 120.67,173.30 120.94,173.15 121.20,173.10 121.45,173.14 121.70,173.27 121.95,173.48 122.20,173.76 122.45,174.09 122.70,174.46 122.95,174.85 123.20,175.24 123.45,175.61 123.70,175.94 123.95,176.22 124.20,176.43 124.45,176.56 124.70,176.60 124.96,176.46 125.21,176.04 125.47,175.35 125.73,174.43 125.98,173.31 126.24,172.03 126.49,170.64 126.75,169.20 127.01,167.76 127.26,166.37 127.52,165.09 127.78,163.97 128.03,163.05 128.29,162.36 128.54,161.94 128.80,161.80 129.06,162.01 129.32,162.62 129.58,163.63 129.84,164.98 130.09,166.65 130.35,168.56 130.61,170.66 130.87,172.87 131.13,175.13 131.39,177.34 131.65,179.44 131.91,181.35 132.16,183.02 132.42,184.37 132.68,185.38 132.94,185.99 133.20,186.20 133.45,185.95 133.70,185.21 133.95,184.00 134.20,182.38 134.45,180.40 134.70,178.14 134.95,175.70 135.20,173.15 135.45,170.60 135.70,168.16 135.95,165.90 136.20,163.92 136.45,162.30 136.70,161.09 136.95,160.35 137.20,160.10 137.46,160.28 137.72,160.80 137.98,161.64 138.24,162.79 138.49,164.19 138.75,165.81 139.01,167.58 139.27,169.45 139.53,171.35 139.79,173.22 140.05,174.99 140.31,176.61 140.56,178.01 140.82,179.16 141.08,180.00 141.34,180.52 141.60,180.70 141.85,180.56 142.10,180.16 142.35,179.51 142.60,178.65 142.85,177.61 143.10,176.46 143.35,175.25 143.60,174.04 143.85,172.89 144.10,171.85 144.35,170.99 144.60,170.34 144.85,169.94 145.10,169.80 145.35,169.87 145.61,170.07 145.86,170.40 146.12,170.84 146.37,171.35 146.62,171.91 146.88,172.49 147.13,173.05 147.38,173.56 147.64,174.00 147.89,174.33 148.15,174.53 148.40,174.60 148.66,174.46 148.92,174.03 149.18,173.36 149.45,172.46 149.71,171.41 149.97,170.25 150.23,169.05 150.49,167.89 150.75,166.84 151.02,165.94 151.28,165.27 151.54,164.84 151.80,164.70 152.06,164.85 152.32,165.30 152.57,166.03 152.83,167.03 153.09,168.27 153.35,169.71 153.61,171.31 153.86,173.04 154.12,174.84 154.38,176.66 154.64,178.46 154.89,180.19 155.15,181.79 155.41,183.23 155.67,184.47 155.93,185.47 156.18,186.20 156.44,186.65 156.70,186.80 156.96,186.50 157.22,185.62 157.48,184.19 157.74,182.25 157.99,179.87 158.25,177.13 158.51,174.13 158.77,170.96 159.03,167.74 159.29,164.57 159.55,161.57 159.81,158.83 160.06,156.45 160.32,154.51 160.58,153.08 160.84,152.20 161.10,151.90 161.35,152.27 161.61,153.36 161.86,155.13 162.11,157.52 162.36,160.46 162.62,163.84 162.87,167.55 163.12,171.46 163.38,175.44 163.63,179.35 163.88,183.06 164.14,186.44 164.39,189.38 164.64,191.77 164.89,193.54 165.15,194.63 165.40,195.00 165.66,194.76 165.91,194.05 166.16,192.87 166.42,191.28 166.68,189.29 166.93,186.96 167.19,184.35 167.44,181.53 167.69,178.55 167.95,175.50 168.21,172.45 168.46,169.47 168.72,166.65 168.97,164.04 169.22,161.71 169.48,159.72 169.74,158.13 169.99,156.95 170.25,156.24 170.50,156.00 170.75,156.20 171.00,156.79 171.25,157.76 171.50,159.06 171.75,160.68 172.00,162.55 172.25,164.62 172.50,166.83 172.75,169.10 173.00,171.37 173.25,173.58 173.50,175.65 173.75,177.52 174.00,179.14 174.25,180.44 174.50,181.41 174.75,182.00 175.00,182.20 175.25,182.07 175.50,181.70 175.75,181.09 176.00,180.26 176.25,179.24 176.50,178.05 176.75,176.74 177.00,175.34 177.25,173.90 177.50,172.46 177.75,171.06 178.00,169.75 178.25,168.56 178.50,167.54 178.75,166.71 179.00,166.10 179.25,165.73 179.50,165.60 179.76,165.72 180.01,166.06 180.27,166.61 180.53,167.35 180.79,168.23 181.04,169.22 181.30,170.25 181.56,171.28 181.81,172.27 182.07,173.15 182.33,173.89 182.59,174.44 182.84,174.78 183.10,174.90 183.35,174.85 183.61,174.69 183.86,174.43 184.12,174.10 184.37,173.71 184.62,173.27 184.88,172.83 185.13,172.39 185.38,172.00 185.64,171.67 185.89,171.41 186.15,171.25 186.40,171.20 186.66,171.34 186.92,171.76 187.18,172.43 187.45,173.32 187.71,174.36 187.97,175.51 188.23,176.69 188.49,177.84 188.75,178.88 189.02,179.77 189.28,180.44 189.54,180.86 189.80,181.00 190.06,180.82 190.31,180.30 190.57,179.44 190.82,178.27 191.08,176.84 191.33,175.18 191.59,173.33 191.84,171.37 192.10,169.35 192.36,167.33 192.61,165.37 192.87,163.53 193.12,161.86 193.38,160.43 193.63,159.26 193.89,158.40 194.14,157.88 194.40,157.70 194.66,157.95 194.92,158.71 195.18,159.94 195.44,161.62 195.71,163.68 195.97,166.07 196.23,168.72 196.49,171.54 196.75,174.45 197.01,177.36 197.27,180.18 197.53,182.82 197.79,185.22 198.06,187.28 198.32,188.96 198.58,190.19 198.84,190.95 199.10,191.20 199.35,190.89 199.60,189.95 199.85,188.43 200.10,186.37 200.35,183.82 200.60,180.88 200.85,177.61 201.10,174.14 201.35,170.55 201.60,166.96 201.85,163.49 202.10,160.22 202.35,157.28 202.60,154.73 202.85,152.67 203.10,151.15 203.35,150.21 203.60,149.90 203.86,150.31 204.12,151.53 204.38,153.51 204.64,156.19 204.89,159.48 205.15,163.26 205.41,167.40 205.67,171.78 205.93,176.22 206.19,180.60 206.45,184.74 206.71,188.52 206.96,191.81 207.22,194.49 207.48,196.47 207.74,197.69 208.00,198.10 208.25,197.69 208.51,196.46 208.76,194.45 209.01,191.74 209.26,188.42 209.52,184.60 209.77,180.41 210.02,176.00 210.28,171.50 210.53,167.09 210.78,162.90 211.04,159.08 211.29,155.76 211.54,153.05 211.79,151.04 212.05,149.81 212.30,149.40 212.56,149.72 212.82,150.66 213.08,152.20 213.34,154.29 213.61,156.87 213.87,159.85 214.13,163.15 214.39,166.67 214.65,170.30 214.91,173.93 215.17,177.45 215.43,180.75 215.69,183.73 215.96,186.31 216.22,188.40 216.48,189.94 216.74,190.88 217.00,191.20 217.25,190.93 217.51,190.11 217.76,188.77 218.01,186.95 218.26,184.70 218.52,182.07 218.77,179.14 219.02,176.00 219.27,172.71 219.53,169.39 219.78,166.10 220.03,162.96 220.28,160.03 220.54,157.40 220.79,155.15 221.04,153.33 221.29,151.99 221.55,151.17 221.80,150.90 222.06,151.25 222.31,152.27 222.57,153.95 222.82,156.22 223.08,159.03 223.33,162.28 223.59,165.87 223.84,169.70 224.10,173.65 224.36,177.60 224.61,181.43 224.87,185.03 225.12,188.27 225.38,191.08 225.63,193.35 225.89,195.03 226.14,196.05 226.40,196.40 226.65,196.09 226.91,195.16 227.16,193.63 227.41,191.56 227.66,188.99 227.92,186.00 228.17,182.67 228.42,179.08 228.67,175.35 228.93,171.55 229.18,167.82 229.43,164.23 229.68,160.90 229.94,157.91 230.19,155.34 230.44,153.27 230.69,151.74 230.95,150.81 231.20,150.50 231.46,150.82 231.72,151.78 231.98,153.35 232.24,155.48 232.51,158.11 232.77,161.15 233.03,164.51 233.29,168.10 233.55,171.80 233.81,175.50 234.07,179.09 234.33,182.45 234.59,185.49 234.86,188.12 235.12,190.25 235.38,191.82 235.64,192.78 235.90,193.10 236.15,192.81 236.40,191.95 236.65,190.53 236.90,188.62 237.15,186.26 237.40,183.53 237.65,180.50 237.90,177.28 238.15,173.95 238.40,170.62 238.65,167.40 238.90,164.38 239.15,161.64 239.40,159.28 239.65,157.37 239.90,155.95 240.15,155.09 240.40,154.80 240.66,155.10 240.93,156.00 241.19,157.45 241.45,159.40 241.71,161.78 241.97,164.49 242.24,167.44 242.50,170.50 242.76,173.56 243.03,176.51 243.29,179.22 243.55,181.60 243.81,183.55 244.07,185.00 244.34,185.90 244.60,186.20 244.86,185.99 245.12,185.37 245.39,184.37 245.65,183.02 245.91,181.38 246.18,179.50 246.44,177.47 246.70,175.35 246.96,173.23 247.22,171.20 247.49,169.32 247.75,167.68 248.01,166.33 248.28,165.33 248.54,164.71 248.80,164.50 249.05,164.66 249.30,165.14 249.55,165.92 249.80,166.97 250.05,168.26 250.30,169.72 250.55,171.30 250.80,172.95 251.05,174.60 251.30,176.18 251.55,177.64 251.80,178.93 252.05,179.98 252.30,180.76 252.55,181.24 252.80,181.40 253.06,181.18 253.32,180.52 253.58,179.45 253.84,177.99 254.09,176.21 254.35,174.17 254.61,171.92 254.87,169.55 255.13,167.15 255.39,164.78 255.65,162.53 255.91,160.49 256.16,158.71 256.42,157.25 256.68,156.18 256.94,155.52 257.20,155.30 257.45,155.66 257.71,156.75 257.96,158.51 258.21,160.89 258.46,163.80 258.72,167.16 258.97,170.84 259.22,174.73 259.48,178.67 259.73,182.56 259.98,186.24 260.24,189.60 260.49,192.51 260.74,194.89 260.99,196.65 261.25,197.74 261.50,198.10 261.76,197.60 262.01,196.11 262.27,193.69 262.52,190.44 262.78,186.48 263.04,181.96 263.29,177.05 263.55,171.95 263.81,166.85 264.06,161.94 264.32,157.42 264.58,153.46 264.83,150.21 265.09,147.79 265.34,146.30 265.60,145.80 265.86,146.26 266.12,147.63 266.39,149.84 266.65,152.83 266.91,156.47 267.18,160.62 267.44,165.12 267.70,169.80 267.96,174.48 268.23,178.98 268.49,183.13 268.75,186.77 269.01,189.76 269.28,191.97 269.54,193.34 269.80,193.80 270.06,193.43 270.31,192.33 270.57,190.56 270.82,188.16 271.08,185.24 271.34,181.92 271.59,178.31 271.85,174.55 272.11,170.79 272.36,167.18 272.62,163.86 272.88,160.94 273.13,158.54 273.39,156.77 273.64,155.67 273.90,155.30 274.16,155.64 274.41,156.65 274.67,158.30 274.92,160.51 275.18,163.21 275.44,166.29 275.69,169.63 275.95,173.10 276.21,176.57 276.46,179.91 276.72,182.99 276.98,185.69 277.23,187.90 277.49,189.55 277.74,190.56 278.00,190.90 278.25,190.60 278.51,189.70 278.76,188.23 279.01,186.25 279.26,183.83 279.52,181.03 279.77,177.97 280.02,174.74 280.28,171.46 280.53,168.23 280.78,165.17 281.04,162.37 281.29,159.95 281.54,157.97 281.79,156.50 282.05,155.60 282.30,155.30 282.56,155.54 282.82,156.26 283.08,157.44 283.34,159.03 283.61,161.00 283.87,163.28 284.13,165.79 284.39,168.48 284.65,171.25 284.91,174.02 285.17,176.71 285.43,179.22 285.69,181.50 285.96,183.47 286.22,185.06 286.48,186.24 286.74,186.96 287.00,187.20 287.25,187.03 287.51,186.54 287.76,185.73 288.02,184.63 288.27,183.26 288.53,181.66 288.79,179.86 289.04,177.91 289.30,175.85 289.55,173.75 289.81,171.65 290.06,169.59 290.31,167.64 290.57,165.84 290.83,164.24 291.08,162.87 291.34,161.77 291.59,160.96 291.85,160.47 292.10,160.30 292.35,160.46 292.61,160.93 292.86,161.70 293.11,162.76 293.36,164.06 293.62,165.58 293.87,167.27 294.12,169.09 294.37,170.99 294.63,172.91 294.88,174.81 295.13,176.63 295.38,178.32 295.64,179.84 295.89,181.14 296.14,182.20 296.39,182.97 296.65,183.44 296.90,183.60 297.15,183.40 297.41,182.81 297.66,181.85 297.91,180.55 298.16,178.95 298.42,177.12 298.67,175.10 298.92,172.98 299.18,170.82 299.43,168.70 299.68,166.68 299.94,164.85 300.19,163.25 300.44,161.95 300.69,160.99 300.95,160.40 301.20,160.20 301.46,160.39 301.71,160.97 301.97,161.91 302.22,163.19 302.48,164.77 302.73,166.60 302.99,168.62 303.24,170.78 303.50,173.00 303.76,175.22 304.01,177.38 304.27,179.40 304.52,181.23 304.78,182.81 305.03,184.09 305.29,185.03 305.54,185.61 305.80,185.80 306.06,185.57 306.32,184.88 306.58,183.76 306.84,182.25 307.09,180.40 307.35,178.26 307.61,175.92 307.87,173.45 308.13,170.95 308.39,168.48 308.65,166.14 308.91,164.00 309.16,162.15 309.42,160.64 309.68,159.52 309.94,158.83 310.20,158.60 310.45,158.85 310.71,159.59 310.96,160.80 311.21,162.44 311.46,164.44 311.72,166.75 311.97,169.28 312.22,171.94 312.48,174.66 312.73,177.32 312.98,179.85 313.24,182.16 313.49,184.16 313.74,185.80 313.99,187.01 314.25,187.75 314.50,188.00 314.76,187.73 315.02,186.93 315.28,185.63 315.54,183.86 315.79,181.70 316.05,179.21 316.31,176.49 316.57,173.61 316.83,170.69 317.09,167.81 317.35,165.09 317.61,162.60 317.86,160.44 318.12,158.67 318.38,157.37 318.64,156.57 318.90,156.30 319.16,156.53 319.42,157.22 319.68,158.34 319.94,159.87 320.21,161.75 320.47,163.93 320.73,166.33 320.99,168.90 321.25,171.55 321.51,174.20 321.77,176.77 322.03,179.18 322.29,181.35 322.56,183.23 322.82,184.76 323.08,185.88 323.34,186.57 323.60,186.80 323.85,186.50 324.11,185.62 324.36,184.21 324.62,182.35 324.87,180.15 325.12,177.74 325.38,175.26 325.63,172.85 325.88,170.65 326.14,168.79 326.39,167.38 326.65,166.50 326.90,166.20 327.16,166.42 327.43,167.07 327.69,168.08 327.95,169.39 328.22,170.87 328.48,172.43 328.75,173.91 329.01,175.22 329.27,176.23 329.54,176.88 329.80,177.10 330.06,176.95 330.33,176.53 330.59,175.83 330.86,174.92 331.12,173.82 331.39,172.59 331.65,171.30 331.91,170.01 332.18,168.78 332.44,167.68 332.71,166.77 332.97,166.07 333.24,165.65 333.50,165.50 333.75,165.69 334.00,166.24 334.25,167.14 334.50,168.32 334.75,169.75 335.00,171.33 335.25,173.00 335.50,174.67 335.75,176.25 336.00,177.68 336.25,178.86 336.50,179.76 336.75,180.31 337.00,180.50" fill="none" stroke="#2323d2" stroke-width="1.2" stroke-linejoin="round" clip-path="url(#cL2)"/>
<path d="M378.00,203.50 379.71,203.39 381.43,203.38 383.14,202.92 384.86,203.44 386.57,203.02 388.29,203.40 390.00,203.50 391.72,202.83 393.43,203.28 395.15,202.65 396.87,203.25 398.58,203.17 400.30,203.20 404.80,200.20 407.70,199.00 409.90,199.80 412.90,197.60 417.30,194.30 418.80,196.80 421.00,182.50 422.80,196.10 426.20,180.10 427.60,191.70 429.60,175.40 431.00,193.90 433.50,171.70 436.10,148.60 438.00,189.40 439.40,190.20 440.90,190.90 442.70,202.70 444.30,194.60 446.10,196.80 447.90,194.60 449.80,200.50 452.70,197.60 455.70,198.70 457.90,200.20 460.10,198.30 462.90,199.00 465.80,201.20 468.00,201.31 470.20,201.90 473.10,201.60 475.30,201.35 477.50,202.20 479.45,201.89 481.40,202.14 483.35,201.70 485.30,202.27 487.25,202.42 489.20,202.60 491.02,202.21 492.85,202.50 494.68,202.03 496.50,202.67 498.32,202.30 500.15,202.74 501.98,202.25 503.80,202.68 505.62,202.74 507.45,202.83 509.28,202.51 511.10,202.90 512.85,202.57 514.59,202.82 516.34,202.27 518.09,202.77 519.83,202.78 521.58,202.99 523.33,202.82 525.07,202.87 526.82,202.88 528.56,203.05 530.31,202.67 532.06,202.97 533.80,203.01 535.55,203.14 537.30,203.05 539.04,203.14 540.79,202.95 542.54,203.10 544.28,202.60 546.03,203.18 547.77,202.83 549.52,203.15 551.27,203.11 553.01,203.21 554.76,202.66 556.51,203.15 558.25,203.08 560.00,203.40 561.73,202.82 563.45,203.33 565.18,202.84 566.91,203.33 568.64,202.86 570.36,203.39 572.09,203.27 573.82,203.28 575.55,203.26 577.27,203.36 579.00,202.95 580.73,203.36 582.45,203.20 584.18,203.25 585.91,203.34 587.64,203.42 589.36,202.85 591.09,203.24 592.82,202.96 594.55,203.30 596.27,202.81 598.00,203.33 599.73,203.36 601.45,203.36 603.18,203.14 604.91,203.27 606.64,203.02 608.36,203.44 610.09,202.99 611.82,203.28 613.55,203.40 615.27,203.27 617.00,203.42 618.73,203.32 620.45,203.21 622.18,203.36 623.91,203.34 625.64,203.43 627.36,203.27 629.09,203.31 630.82,202.89 632.55,203.31 634.27,203.24 636.00,203.41 637.73,203.17 639.45,203.45 641.18,203.21 642.91,203.37 644.64,203.28 646.36,203.46 648.09,203.43 649.82,203.40 651.55,203.13 653.27,203.43 655.00,203.50" fill="none" stroke="#2323d2" stroke-width="1.2" stroke-linejoin="round" clip-path="url(#cR2)"/>
<line x1="432.80" y1="140.94" x2="432.80" y2="203.89" stroke="#e8302a" stroke-opacity="0.8" stroke-width="1.5" stroke-dasharray="6.5,3.2" stroke-dashoffset="0.9"/>
<line x1="37.45" y1="148.9" x2="40.45" y2="148.9" stroke="#111" stroke-width="1"/>
<text transform="translate(34.95,153.90) scale(1,1.0)" class="tk" text-anchor="end">1.5</text>
<line x1="37.45" y1="171.8" x2="40.45" y2="171.8" stroke="#111" stroke-width="1"/>
<text transform="translate(34.95,176.80) scale(1,1.0)" class="tk" text-anchor="end">0.0</text>
<line x1="37.45" y1="194.7" x2="40.45" y2="194.7" stroke="#111" stroke-width="1"/>
<text transform="translate(34.95,199.70) scale(1,1.0)" class="tk" text-anchor="end">-1.5</text>
<line x1="377.6" y1="161.8" x2="380.6" y2="161.8" stroke="#111" stroke-width="1"/>
<text transform="translate(375.10,166.80) scale(1,1.0)" class="tk" text-anchor="end">0.2</text>
<line x1="377.6" y1="203.6" x2="380.6" y2="203.6" stroke="#111" stroke-width="1"/>
<text transform="translate(375.10,208.60) scale(1,1.0)" class="tk" text-anchor="end">0.0</text>
<text transform="translate(298.60,155.50) scale(1,1.0)" class="imf" text-anchor="start">IMF3</text>
<text transform="translate(638.30,157.20) scale(1,1.0)" class="imf" text-anchor="start">IMF3</text>
<clipPath id="cL3"><rect x="37.45" y="210.35999999999999" width="299.5" height="62.95000000000002"/></clipPath>
<clipPath id="cR3"><rect x="377.6" y="210.35999999999999" width="300.0" height="64.15000000000002"/></clipPath>
<rect x="37.45" y="210.35999999999999" width="299.5" height="62.95000000000002" fill="none" stroke="#111" stroke-width="1.5"/>
<rect x="377.6" y="210.35999999999999" width="300.0" height="62.95000000000002" fill="none" stroke="#111" stroke-width="1.5"/>
<line x1="37.45" y1="273.31" x2="37.45" y2="270.31" stroke="#111" stroke-width="1"/>
<line x1="97.35" y1="273.31" x2="97.35" y2="270.31" stroke="#111" stroke-width="1"/>
<line x1="157.25" y1="273.31" x2="157.25" y2="270.31" stroke="#111" stroke-width="1"/>
<line x1="217.14999999999998" y1="273.31" x2="217.14999999999998" y2="270.31" stroke="#111" stroke-width="1"/>
<line x1="277.05" y1="273.31" x2="277.05" y2="270.31" stroke="#111" stroke-width="1"/>
<line x1="336.95" y1="273.31" x2="336.95" y2="270.31" stroke="#111" stroke-width="1"/>
<line x1="377.60" y1="273.31" x2="377.60" y2="270.31" stroke="#111" stroke-width="1"/>
<line x1="410.93" y1="273.31" x2="410.93" y2="270.31" stroke="#111" stroke-width="1"/>
<line x1="444.27" y1="273.31" x2="444.27" y2="270.31" stroke="#111" stroke-width="1"/>
<line x1="477.60" y1="273.31" x2="477.60" y2="270.31" stroke="#111" stroke-width="1"/>
<line x1="510.93" y1="273.31" x2="510.93" y2="270.31" stroke="#111" stroke-width="1"/>
<line x1="544.27" y1="273.31" x2="544.27" y2="270.31" stroke="#111" stroke-width="1"/>
<line x1="577.60" y1="273.31" x2="577.60" y2="270.31" stroke="#111" stroke-width="1"/>
<line x1="610.93" y1="273.31" x2="610.93" y2="270.31" stroke="#111" stroke-width="1"/>
<line x1="644.27" y1="273.31" x2="644.27" y2="270.31" stroke="#111" stroke-width="1"/>
<line x1="677.60" y1="273.31" x2="677.60" y2="270.31" stroke="#111" stroke-width="1"/>
<path d="M37.20,241.00 37.46,240.85 37.72,240.45 37.98,239.95 38.24,239.55 38.50,239.40 38.80,240.56 39.10,243.35 39.40,246.14 39.70,247.30 39.96,247.25 40.22,247.11 40.47,246.87 40.73,246.55 40.99,246.15 41.25,245.69 41.51,245.18 41.76,244.62 42.02,244.04 42.28,243.46 42.54,242.88 42.79,242.32 43.05,241.81 43.31,241.35 43.57,240.95 43.83,240.63 44.08,240.39 44.34,240.25 44.60,240.20 44.85,240.31 45.10,240.62 45.35,241.11 45.60,241.72 45.85,242.40 46.10,243.08 46.35,243.69 46.60,244.18 46.85,244.49 47.10,244.60 47.37,244.51 47.63,244.25 47.90,243.84 48.17,243.30 48.43,242.67 48.70,242.00 48.97,241.33 49.23,240.70 49.50,240.16 49.77,239.75 50.03,239.49 50.30,239.40 50.57,239.53 50.84,239.92 51.11,240.51 51.38,241.27 51.65,242.10 51.92,242.93 52.19,243.69 52.46,244.28 52.73,244.67 53.00,244.80 53.26,244.71 53.52,244.44 53.77,244.01 54.03,243.45 54.29,242.80 54.55,242.10 54.81,241.40 55.07,240.75 55.33,240.19 55.58,239.76 55.84,239.49 56.10,239.40 56.35,239.50 56.61,239.79 56.86,240.25 57.12,240.83 57.37,241.50 57.63,242.20 57.88,242.87 58.14,243.45 58.39,243.91 58.65,244.20 58.90,244.30 59.15,244.24 59.41,244.07 59.66,243.78 59.92,243.41 60.17,242.98 60.42,242.50 60.68,242.00 60.93,241.52 61.18,241.09 61.44,240.72 61.69,240.43 61.95,240.26 62.20,240.20 62.47,240.49 62.73,241.30 63.00,242.40 63.27,243.50 63.53,244.31 63.80,244.60 64.06,244.24 64.31,243.24 64.57,241.80 64.83,240.20 65.09,238.76 65.34,237.76 65.60,237.40 65.85,238.89 66.10,242.50 66.35,246.11 66.60,247.60 66.86,247.02 67.11,245.40 67.37,243.05 67.63,240.45 67.89,238.10 68.14,236.48 68.40,235.90 68.67,236.66 68.93,238.75 69.20,241.60 69.47,244.45 69.73,246.54 70.00,247.30 70.27,247.05 70.54,246.34 70.81,245.22 71.08,243.81 71.35,242.25 71.62,240.69 71.89,239.28 72.16,238.16 72.43,237.45 72.70,237.20 72.97,237.66 73.24,238.93 73.51,240.78 73.79,242.82 74.06,244.67 74.33,245.94 74.60,246.40 74.86,245.97 75.11,244.78 75.37,243.06 75.63,241.14 75.89,239.42 76.14,238.23 76.40,237.80 76.65,237.98 76.90,238.51 77.15,239.33 77.40,240.36 77.65,241.50 77.90,242.64 78.15,243.67 78.40,244.49 78.65,245.02 78.90,245.20 79.16,244.86 79.41,243.92 79.67,242.56 79.93,241.04 80.19,239.68 80.44,238.74 80.70,238.40 80.96,238.57 81.23,239.08 81.49,239.88 81.75,240.91 82.02,242.09 82.28,243.31 82.55,244.49 82.81,245.52 83.07,246.32 83.34,246.83 83.60,247.00 83.87,246.65 84.13,245.63 84.40,244.08 84.67,242.17 84.93,240.13 85.20,238.23 85.47,236.67 85.73,235.65 86.00,235.30 86.27,235.75 86.53,237.03 86.80,239.00 87.07,241.42 87.33,243.98 87.60,246.40 87.87,248.37 88.13,249.65 88.40,250.10 88.65,249.71 88.90,248.57 89.15,246.80 89.40,244.57 89.65,242.10 89.90,239.63 90.15,237.40 90.40,235.63 90.65,234.49 90.90,234.10 91.15,234.53 91.40,235.78 91.65,237.73 91.90,240.18 92.15,242.90 92.40,245.62 92.65,248.07 92.90,250.02 93.15,251.27 93.40,251.70 93.67,251.22 93.94,249.84 94.21,247.68 94.48,244.96 94.75,241.95 95.02,238.94 95.29,236.22 95.56,234.06 95.83,232.68 96.10,232.20 96.38,233.03 96.65,235.41 96.92,238.96 97.20,243.15 97.47,247.34 97.75,250.89 98.02,253.27 98.30,254.10 98.55,253.56 98.80,252.01 99.05,249.59 99.30,246.53 99.55,243.15 99.80,239.77 100.05,236.71 100.30,234.29 100.55,232.74 100.80,232.20 101.05,232.86 101.30,234.73 101.55,237.54 101.80,240.85 102.05,244.16 102.30,246.97 102.55,248.84 102.80,249.50 103.06,248.96 103.33,247.42 103.59,245.12 103.85,242.40 104.11,239.68 104.38,237.38 104.64,235.84 104.90,235.30 105.15,235.63 105.40,236.59 105.65,238.08 105.90,239.96 106.15,242.05 106.40,244.14 106.65,246.02 106.90,247.51 107.15,248.47 107.40,248.80 107.68,248.32 107.95,246.95 108.22,244.91 108.50,242.50 108.78,240.09 109.05,238.05 109.32,236.68 109.60,236.20 109.85,236.49 110.10,237.35 110.35,238.67 110.60,240.35 110.85,242.20 111.10,244.05 111.35,245.73 111.60,247.05 111.85,247.91 112.10,248.20 112.38,247.71 112.65,246.31 112.92,244.22 113.20,241.75 113.47,239.28 113.75,237.19 114.02,235.79 114.30,235.30 114.56,235.72 114.83,236.93 115.09,238.73 115.35,240.85 115.61,242.97 115.88,244.77 116.14,245.98 116.40,246.40 116.66,246.07 116.93,245.14 117.19,243.75 117.45,242.10 117.71,240.45 117.97,239.06 118.24,238.13 118.50,237.80 118.78,238.16 119.05,239.18 119.33,240.70 119.60,242.50 119.88,244.30 120.15,245.82 120.42,246.84 120.70,247.20 120.96,246.67 121.21,245.19 121.47,243.04 121.73,240.66 121.99,238.51 122.24,237.03 122.50,236.50 122.75,236.83 123.00,237.80 123.25,239.30 123.50,241.20 123.75,243.30 124.00,245.40 124.25,247.30 124.50,248.80 124.75,249.77 125.00,250.10 125.25,249.71 125.50,248.57 125.75,246.80 126.00,244.57 126.25,242.10 126.50,239.63 126.75,237.40 127.00,235.63 127.25,234.49 127.50,234.10 127.75,234.80 128.00,236.79 128.25,239.78 128.50,243.30 128.75,246.82 129.00,249.81 129.25,251.80 129.50,252.50 129.76,251.85 130.01,249.96 130.27,247.08 130.52,243.53 130.78,239.77 131.03,236.23 131.29,233.34 131.54,231.45 131.80,230.80 132.07,231.64 132.33,234.06 132.60,237.78 132.87,242.33 133.13,247.17 133.40,251.72 133.67,255.44 133.93,257.86 134.20,258.70 134.47,257.71 134.73,254.85 135.00,250.47 135.27,245.11 135.53,239.39 135.80,234.03 136.07,229.65 136.33,226.79 136.60,225.80 136.88,226.96 137.15,230.27 137.43,235.21 137.70,241.05 137.97,246.89 138.25,251.83 138.53,255.14 138.80,256.30 139.06,255.63 139.32,253.69 139.58,250.67 139.84,246.87 140.10,242.65 140.36,238.43 140.62,234.63 140.88,231.61 141.14,229.67 141.40,229.00 141.68,229.90 141.95,232.46 142.22,236.28 142.50,240.80 142.78,245.32 143.05,249.14 143.32,251.70 143.60,252.60 143.86,252.11 144.12,250.69 144.38,248.48 144.64,245.69 144.90,242.60 145.16,239.51 145.42,236.72 145.68,234.51 145.94,233.09 146.20,232.60 146.46,233.22 146.71,235.02 146.97,237.78 147.22,241.15 147.48,244.75 147.73,248.12 147.99,250.88 148.24,252.68 148.50,253.30 148.75,252.75 149.00,251.16 149.25,248.68 149.50,245.56 149.75,242.10 150.00,238.64 150.25,235.52 150.50,233.04 150.75,231.45 151.00,230.90 151.28,231.73 151.55,234.08 151.82,237.60 152.10,241.75 152.38,245.90 152.65,249.42 152.92,251.77 153.20,252.60 153.47,252.15 153.74,250.86 154.01,248.85 154.28,246.31 154.55,243.50 154.82,240.69 155.09,238.15 155.36,236.14 155.63,234.85 155.90,234.40 156.16,235.03 156.41,236.79 156.67,239.34 156.93,242.16 157.19,244.71 157.44,246.47 157.70,247.10 157.96,246.86 158.22,246.15 158.48,245.04 158.74,243.65 159.00,242.10 159.26,240.55 159.52,239.16 159.78,238.05 160.04,237.34 160.30,237.10 160.56,237.41 160.83,238.29 161.09,239.60 161.35,241.15 161.61,242.70 161.88,244.01 162.14,244.89 162.40,245.20 162.67,244.98 162.93,244.33 163.20,243.35 163.47,242.14 163.73,240.86 164.00,239.65 164.27,238.67 164.53,238.02 164.80,237.80 165.05,238.07 165.30,238.86 165.55,240.09 165.80,241.63 166.05,243.35 166.30,245.07 166.55,246.61 166.80,247.84 167.05,248.63 167.30,248.90 167.55,248.52 167.80,247.42 168.05,245.71 168.30,243.54 168.55,241.15 168.80,238.76 169.05,236.59 169.30,234.88 169.55,233.78 169.80,233.40 170.07,233.92 170.34,235.44 170.61,237.81 170.88,240.79 171.15,244.10 171.42,247.41 171.69,250.39 171.96,252.76 172.23,254.28 172.50,254.80 172.76,254.17 173.02,252.34 173.28,249.48 173.54,245.89 173.80,241.90 174.06,237.91 174.32,234.32 174.58,231.46 174.84,229.63 175.10,229.00 175.36,229.96 175.62,232.68 175.89,236.75 176.15,241.55 176.41,246.35 176.67,250.42 176.94,253.14 177.20,254.10 177.46,253.50 177.71,251.76 177.97,249.10 178.22,245.84 178.48,242.36 178.73,239.10 178.99,236.44 179.24,234.70 179.50,234.10 179.76,234.94 180.01,237.30 180.27,240.71 180.53,244.49 180.79,247.90 181.04,250.26 181.30,251.10 181.58,250.40 181.85,248.39 182.12,245.39 182.40,241.85 182.68,238.31 182.95,235.31 183.22,233.30 183.50,232.60 183.78,233.42 184.05,235.75 184.32,239.24 184.60,243.35 184.88,247.46 185.15,250.95 185.42,253.28 185.70,254.10 185.96,253.32 186.21,251.07 186.47,247.62 186.72,243.40 186.98,238.90 187.23,234.67 187.49,231.23 187.74,228.98 188.00,228.20 188.28,229.38 188.55,232.74 188.82,237.77 189.10,243.70 189.38,249.63 189.65,254.66 189.92,258.02 190.20,259.20 190.47,257.96 190.75,254.44 191.03,249.17 191.30,242.95 191.57,236.73 191.85,231.46 192.12,227.94 192.40,226.70 192.65,227.50 192.90,229.80 193.15,233.40 193.40,237.93 193.65,242.95 193.90,247.97 194.15,252.50 194.40,256.10 194.65,258.40 194.90,259.20 195.17,257.56 195.44,252.95 195.71,246.29 195.99,238.91 196.26,232.25 196.53,227.64 196.80,226.00 197.05,226.78 197.30,229.03 197.55,232.53 197.80,236.95 198.05,241.85 198.30,246.75 198.55,251.17 198.80,254.67 199.05,256.92 199.30,257.70 199.57,256.72 199.83,253.90 200.10,249.57 200.37,244.27 200.63,238.63 200.90,233.32 201.17,229.00 201.43,226.18 201.70,225.20 201.95,225.98 202.20,228.24 202.45,231.75 202.70,236.19 202.95,241.10 203.20,246.01 203.45,250.45 203.70,253.96 203.95,256.22 204.20,257.00 204.47,255.32 204.74,250.60 205.01,243.78 205.29,236.22 205.56,229.40 205.83,224.68 206.10,223.00 206.35,223.68 206.60,225.67 206.85,228.84 207.10,232.97 207.35,237.79 207.60,242.95 207.85,248.11 208.10,252.92 208.35,257.06 208.60,260.23 208.85,262.22 209.10,262.90 209.35,261.92 209.60,259.09 209.85,254.68 210.10,249.11 210.35,242.95 210.60,236.79 210.85,231.22 211.10,226.81 211.35,223.98 211.60,223.00 211.88,224.32 212.15,228.08 212.43,233.71 212.70,240.35 212.97,246.99 213.25,252.62 213.53,256.38 213.80,257.70 214.05,257.16 214.30,255.58 214.55,253.06 214.80,249.78 215.05,245.95 215.30,241.85 215.55,237.75 215.80,233.93 216.05,230.64 216.30,228.12 216.55,226.54 216.80,226.00 217.08,228.03 217.37,233.57 217.65,241.15 217.93,248.72 218.22,254.27 218.50,256.30 218.75,255.88 219.00,254.67 219.25,252.73 219.50,250.20 219.75,247.26 220.00,244.10 220.25,240.94 220.50,238.00 220.75,235.47 221.00,233.53 221.25,232.32 221.50,231.90 221.77,232.85 222.04,235.51 222.31,239.36 222.59,243.64 222.86,247.49 223.13,250.15 223.40,251.10 223.65,250.76 223.90,249.76 224.15,248.21 224.40,246.26 224.65,244.10 224.90,241.94 225.15,239.99 225.40,238.44 225.65,237.44 225.90,237.10 226.17,237.58 226.44,238.91 226.71,240.83 226.99,242.97 227.26,244.89 227.53,246.22 227.80,246.70 228.06,246.50 228.32,245.92 228.58,245.01 228.84,243.87 229.10,242.60 229.36,241.33 229.62,240.19 229.88,239.28 230.14,238.70 230.40,238.50 230.67,238.83 230.94,239.76 231.21,241.10 231.49,242.60 231.76,243.94 232.03,244.87 232.30,245.20 232.55,245.02 232.80,244.49 233.05,243.67 233.30,242.64 233.55,241.50 233.80,240.36 234.05,239.33 234.30,238.51 234.55,237.98 234.80,237.80 235.07,238.17 235.34,239.19 235.61,240.68 235.89,242.32 236.16,243.81 236.43,244.83 236.70,245.20 236.95,245.07 237.20,244.70 237.45,244.12 237.70,243.35 237.95,242.46 238.20,241.50 238.45,240.54 238.70,239.65 238.95,238.88 239.20,238.30 239.45,237.93 239.70,237.80 239.97,237.96 240.23,238.44 240.50,239.21 240.77,240.20 241.03,241.36 241.30,242.60 241.57,243.84 241.83,245.00 242.10,245.99 242.37,246.76 242.63,247.24 242.90,247.40 243.16,247.31 243.43,247.03 243.69,246.59 243.96,246.01 244.22,245.31 244.49,244.52 244.75,243.70 245.01,242.88 245.28,242.09 245.54,241.39 245.81,240.81 246.07,240.37 246.34,240.09 246.60,240.00 246.85,240.11 247.10,240.42 247.35,240.91 247.60,241.52 247.85,242.20 248.10,242.88 248.35,243.49 248.60,243.98 248.85,244.29 249.10,244.40 249.37,244.18 249.64,243.56 249.91,242.59 250.18,241.36 250.45,240.00 250.72,238.64 250.99,237.41 251.26,236.44 251.53,235.82 251.80,235.60 252.06,235.91 252.32,236.79 252.58,238.18 252.84,239.92 253.10,241.85 253.36,243.78 253.62,245.52 253.88,246.91 254.14,247.79 254.40,248.10 254.68,247.63 254.96,246.29 255.23,244.22 255.51,241.70 255.79,239.00 256.07,236.47 256.34,234.41 256.62,233.07 256.90,232.60 257.16,233.27 257.41,235.20 257.67,238.15 257.92,241.77 258.18,245.63 258.43,249.25 258.69,252.20 258.94,254.13 259.20,254.80 259.46,254.15 259.72,252.26 259.98,249.32 260.24,245.61 260.50,241.50 260.76,237.39 261.02,233.68 261.28,230.74 261.54,228.85 261.80,228.20 262.06,229.54 262.32,233.35 262.59,239.06 262.85,245.80 263.11,252.54 263.38,258.25 263.64,262.06 263.90,263.40 264.16,262.07 264.41,258.24 264.67,252.38 264.92,245.18 265.18,237.52 265.43,230.33 265.69,224.46 265.94,220.63 266.20,219.30 266.46,220.42 266.72,223.67 266.98,228.74 267.24,235.12 267.50,242.20 267.76,249.28 268.02,255.66 268.28,260.73 268.54,263.98 268.80,265.10 269.07,263.26 269.35,258.01 269.62,250.16 269.90,240.90 270.18,231.64 270.45,223.79 270.73,218.54 271.00,216.70 271.26,217.93 271.52,221.49 271.78,227.05 272.04,234.04 272.30,241.80 272.56,249.56 272.82,256.55 273.08,262.11 273.34,265.67 273.60,266.90 273.85,265.80 274.10,262.61 274.35,257.65 274.60,251.39 274.85,244.45 275.10,237.51 275.35,231.25 275.60,226.29 275.85,223.10 276.10,222.00 276.36,222.98 276.62,225.84 276.88,230.29 277.14,235.89 277.40,242.10 277.66,248.31 277.92,253.91 278.18,258.36 278.44,261.22 278.70,262.20 278.96,260.90 279.21,257.15 279.47,251.40 279.72,244.35 279.98,236.85 280.23,229.80 280.49,224.05 280.74,220.30 281.00,219.00 281.25,219.68 281.50,221.69 281.75,224.89 282.00,229.05 282.25,233.90 282.50,239.10 282.75,244.30 283.00,249.15 283.25,253.31 283.50,256.51 283.75,258.52 284.00,259.20 284.28,257.22 284.57,251.82 284.85,244.45 285.13,237.07 285.42,231.68 285.70,229.70 285.97,230.22 286.24,231.74 286.51,234.11 286.78,237.09 287.05,240.40 287.32,243.71 287.59,246.69 287.86,249.06 288.13,250.58 288.40,251.10 288.65,250.74 288.90,249.69 289.15,248.05 289.40,245.99 289.65,243.70 289.90,241.41 290.15,239.35 290.40,237.71 290.65,236.66 290.90,236.30 291.17,236.70 291.45,237.82 291.73,239.51 292.00,241.50 292.27,243.49 292.55,245.18 292.83,246.30 293.10,246.70 293.37,246.52 293.64,245.99 293.91,245.17 294.18,244.14 294.45,243.00 294.72,241.86 294.99,240.83 295.26,240.01 295.53,239.48 295.80,239.30 296.06,239.49 296.32,240.02 296.59,240.81 296.85,241.75 297.11,242.69 297.38,243.48 297.64,244.01 297.90,244.20 298.16,244.12 298.42,243.88 298.68,243.50 298.94,243.03 299.20,242.50 299.46,241.97 299.72,241.50 299.98,241.12 300.24,240.88 300.50,240.80 300.75,241.12 301.00,242.00 301.25,243.20 301.50,244.40 301.75,245.28 302.00,245.60 302.27,245.39 302.54,244.79 302.81,243.85 303.08,242.66 303.35,241.35 303.62,240.04 303.89,238.85 304.16,237.91 304.43,237.31 304.70,237.10 304.95,237.56 305.20,238.87 305.45,240.83 305.70,243.15 305.95,245.47 306.20,247.43 306.45,248.74 306.70,249.20 306.97,248.83 307.24,247.76 307.51,246.09 307.78,243.98 308.05,241.65 308.32,239.32 308.59,237.21 308.86,235.54 309.13,234.47 309.40,234.10 309.67,234.63 309.95,236.15 310.23,238.42 310.50,241.10 310.77,243.78 311.05,246.05 311.33,247.57 311.60,248.10 311.85,247.79 312.10,246.91 312.35,245.52 312.60,243.78 312.85,241.85 313.10,239.92 313.35,238.18 313.60,236.79 313.85,235.91 314.10,235.60 314.37,236.11 314.64,237.54 314.91,239.60 315.19,241.90 315.46,243.96 315.73,245.39 316.00,245.90 316.25,245.59 316.50,244.71 316.75,243.40 317.00,241.85 317.25,240.30 317.50,238.99 317.75,238.11 318.00,237.80 318.25,238.15 318.50,239.16 318.75,240.67 319.00,242.45 319.25,244.23 319.50,245.74 319.75,246.75 320.00,247.10 320.27,246.79 320.53,245.90 320.80,244.53 321.07,242.84 321.33,241.06 321.60,239.38 321.87,238.00 322.13,237.11 322.40,236.80 322.65,237.11 322.90,238.02 323.15,239.44 323.40,241.22 323.65,243.20 323.90,245.18 324.15,246.96 324.40,248.38 324.65,249.29 324.90,249.60 325.17,248.80 325.44,246.55 325.71,243.30 325.99,239.70 326.26,236.45 326.53,234.20 326.80,233.40 327.05,233.73 327.30,234.69 327.55,236.21 327.80,238.20 328.05,240.52 328.30,243.00 328.55,245.48 328.80,247.80 329.05,249.79 329.30,251.31 329.55,252.27 329.80,252.60 330.08,251.17 330.37,247.25 330.65,241.90 330.93,236.55 331.22,232.63 331.50,231.20 331.75,231.56 332.00,232.60 332.25,234.26 332.50,236.42 332.75,238.95 333.00,241.65 333.25,244.35 333.50,246.88 333.75,249.04 334.00,250.70 334.25,251.74 334.50,252.10 334.80,249.57 335.10,243.45 335.40,237.33 335.70,234.80 335.96,235.77 336.22,238.32 336.48,241.48 336.74,244.03 337.00,245.00" fill="none" stroke="#2323d2" stroke-width="1.2" stroke-linejoin="round" clip-path="url(#cL3)"/>
<path d="M378.00,273.00 379.75,272.75 381.50,272.95 383.25,272.85 385.00,272.79 386.75,272.31 388.50,272.98 390.25,272.77 392.00,272.84 393.75,272.44 395.50,272.89 397.25,272.61 399.00,272.82 400.75,272.65 402.50,272.77 404.25,272.75 406.00,272.97 407.75,272.80 409.50,272.99 411.25,272.26 413.00,272.84 414.75,272.84 416.50,272.99 418.25,272.32 420.00,273.00 421.73,272.68 423.46,272.90 425.19,272.61 426.92,272.87 428.65,272.83 430.38,272.86 432.12,272.83 433.85,272.67 435.58,272.53 437.31,272.71 439.04,272.38 440.77,272.57 442.50,272.70 444.35,272.01 446.20,271.70 449.20,272.00 451.50,269.70 454.50,271.70 458.20,270.20 460.00,266.90 461.40,269.60 462.70,264.10 464.10,268.90 465.50,271.00 467.50,265.50 470.20,262.80 473.00,262.10 474.30,263.50 475.70,267.60 477.50,244.40 479.10,251.20 480.80,256.00 482.10,263.50 483.90,264.80 485.50,221.10 486.90,244.40 488.30,260.00 490.00,271.00 492.10,266.20 494.80,268.20 497.50,269.60 499.50,270.50 501.70,271.20 504.00,270.50 507.00,269.30 510.00,271.70 513.00,270.50 516.00,272.00 518.00,271.90 520.00,272.00 521.82,271.52 523.64,272.04 525.45,271.49 527.27,272.10 529.09,271.49 530.91,272.28 532.73,272.28 534.55,272.40 536.36,271.71 538.18,272.38 540.00,272.60 541.71,272.13 543.43,272.54 545.14,272.50 546.86,272.63 548.57,272.00 550.29,272.54 552.00,271.87 553.71,272.66 555.43,271.99 557.14,272.65 558.86,271.90 560.57,272.67 562.29,272.53 564.00,272.61 565.71,272.31 567.43,272.70 569.14,272.17 570.86,272.54 572.57,272.70 574.29,272.73 576.00,272.17 577.71,272.77 579.43,272.25 581.14,272.63 582.86,272.10 584.57,272.69 586.29,272.54 588.00,272.82 589.71,272.63 591.43,272.82 593.14,272.45 594.86,272.87 596.57,272.28 598.29,272.65 600.00,272.90 601.72,272.79 603.44,272.75 605.16,272.19 606.88,272.86 608.59,272.19 610.31,272.74 612.03,272.32 613.75,272.86 615.47,272.36 617.19,272.74 618.91,272.22 620.62,272.80 622.34,272.86 624.06,272.79 625.78,272.63 627.50,272.74 629.22,272.67 630.94,272.81 632.66,272.53 634.38,272.93 636.09,272.38 637.81,272.86 639.53,272.55 641.25,272.87 642.97,272.95 644.69,272.95 646.41,272.58 648.12,272.89 649.84,272.66 651.56,272.94 653.28,272.54 655.00,273.00" fill="none" stroke="#2323d2" stroke-width="1.2" stroke-linejoin="round" clip-path="url(#cR3)"/>
<line x1="481.20" y1="210.36" x2="481.20" y2="273.31" stroke="#e8302a" stroke-opacity="0.8" stroke-width="1.5" stroke-dasharray="6.5,3.2" stroke-dashoffset="0.9"/>
<line x1="37.45" y1="221.3" x2="40.45" y2="221.3" stroke="#111" stroke-width="1"/>
<text transform="translate(34.95,226.30) scale(1,1.0)" class="tk" text-anchor="end">1</text>
<line x1="37.45" y1="242.3" x2="40.45" y2="242.3" stroke="#111" stroke-width="1"/>
<text transform="translate(34.95,247.30) scale(1,1.0)" class="tk" text-anchor="end">0</text>
<line x1="37.45" y1="263.6" x2="40.45" y2="263.6" stroke="#111" stroke-width="1"/>
<text transform="translate(34.95,268.60) scale(1,1.0)" class="tk" text-anchor="end">-1</text>
<line x1="377.6" y1="217.4" x2="380.6" y2="217.4" stroke="#111" stroke-width="1"/>
<text transform="translate(375.10,222.40) scale(1,1.0)" class="tk" text-anchor="end">0.2</text>
<line x1="377.6" y1="245.2" x2="380.6" y2="245.2" stroke="#111" stroke-width="1"/>
<text transform="translate(375.10,250.20) scale(1,1.0)" class="tk" text-anchor="end">0.1</text>
<line x1="377.6" y1="273.0" x2="380.6" y2="273.0" stroke="#111" stroke-width="1"/>
<text transform="translate(375.10,278.00) scale(1,1.0)" class="tk" text-anchor="end">0.0</text>
<text transform="translate(297.30,227.10) scale(1,1.0)" class="imf" text-anchor="start">IMF4</text>
<text transform="translate(638.30,226.20) scale(1,1.0)" class="imf" text-anchor="start">IMF4</text>
<clipPath id="cL4"><rect x="37.45" y="279.78000000000003" width="299.5" height="62.94999999999999"/></clipPath>
<clipPath id="cR4"><rect x="377.6" y="279.78000000000003" width="300.0" height="64.14999999999999"/></clipPath>
<rect x="37.45" y="279.78000000000003" width="299.5" height="62.94999999999999" fill="none" stroke="#111" stroke-width="1.5"/>
<rect x="377.6" y="279.78000000000003" width="300.0" height="62.94999999999999" fill="none" stroke="#111" stroke-width="1.5"/>
<line x1="37.45" y1="342.73" x2="37.45" y2="339.73" stroke="#111" stroke-width="1"/>
<line x1="97.35" y1="342.73" x2="97.35" y2="339.73" stroke="#111" stroke-width="1"/>
<line x1="157.25" y1="342.73" x2="157.25" y2="339.73" stroke="#111" stroke-width="1"/>
<line x1="217.14999999999998" y1="342.73" x2="217.14999999999998" y2="339.73" stroke="#111" stroke-width="1"/>
<line x1="277.05" y1="342.73" x2="277.05" y2="339.73" stroke="#111" stroke-width="1"/>
<line x1="336.95" y1="342.73" x2="336.95" y2="339.73" stroke="#111" stroke-width="1"/>
<line x1="377.60" y1="342.73" x2="377.60" y2="339.73" stroke="#111" stroke-width="1"/>
<line x1="410.93" y1="342.73" x2="410.93" y2="339.73" stroke="#111" stroke-width="1"/>
<line x1="444.27" y1="342.73" x2="444.27" y2="339.73" stroke="#111" stroke-width="1"/>
<line x1="477.60" y1="342.73" x2="477.60" y2="339.73" stroke="#111" stroke-width="1"/>
<line x1="510.93" y1="342.73" x2="510.93" y2="339.73" stroke="#111" stroke-width="1"/>
<line x1="544.27" y1="342.73" x2="544.27" y2="339.73" stroke="#111" stroke-width="1"/>
<line x1="577.60" y1="342.73" x2="577.60" y2="339.73" stroke="#111" stroke-width="1"/>
<line x1="610.93" y1="342.73" x2="610.93" y2="339.73" stroke="#111" stroke-width="1"/>
<line x1="644.27" y1="342.73" x2="644.27" y2="339.73" stroke="#111" stroke-width="1"/>
<line x1="677.60" y1="342.73" x2="677.60" y2="339.73" stroke="#111" stroke-width="1"/>
<path d="M37.00,310.49 37.25,311.70 37.51,315.01 37.76,319.53 38.02,324.06 38.27,327.37 38.53,328.58 38.79,327.01 39.05,322.89 39.32,317.80 39.58,313.68 39.84,312.11 40.11,313.54 40.38,317.30 40.65,321.94 40.92,325.70 41.19,327.13 41.49,324.91 41.79,319.54 42.10,314.16 42.40,311.94 42.67,312.89 42.94,315.47 43.20,319.01 43.47,322.54 43.74,325.13 44.01,326.08 44.27,324.68 44.52,321.03 44.78,316.52 45.04,312.87 45.30,311.47 45.56,312.37 45.83,314.81 46.10,318.14 46.36,321.48 46.63,323.92 46.90,324.81 47.15,323.96 47.41,321.63 47.67,318.45 47.93,315.27 48.18,312.95 48.44,312.10 48.72,313.17 49.00,316.00 49.28,319.49 49.56,322.31 49.84,323.39 50.14,321.59 50.45,317.24 50.75,312.88 51.05,311.08 51.31,312.31 51.58,315.55 51.84,319.54 52.10,322.77 52.36,324.01 52.66,321.94 52.97,316.97 53.27,311.99 53.57,309.93 53.83,310.91 54.09,313.57 54.35,317.22 54.61,320.86 54.87,323.52 55.13,324.50 55.39,323.41 55.65,320.45 55.91,316.40 56.17,312.35 56.44,309.39 56.70,308.30 57.00,310.42 57.30,315.54 57.59,320.65 57.89,322.77 58.19,320.85 58.49,316.20 58.79,311.56 59.08,309.63 59.36,310.72 59.63,313.57 59.91,317.09 60.18,319.93 60.46,321.02 60.72,319.88 60.99,316.88 61.25,313.17 61.52,310.17 61.78,309.03 62.05,310.28 62.31,313.54 62.58,317.58 62.84,320.85 63.11,322.10 63.40,320.85 63.70,317.60 64.00,313.58 64.29,310.32 64.59,309.08 64.85,310.06 65.10,312.74 65.35,316.41 65.61,320.08 65.86,322.76 66.12,323.75 66.38,322.17 66.65,318.03 66.91,312.92 67.18,308.78 67.44,307.20 67.72,309.09 68.00,314.04 68.28,320.16 68.56,325.11 68.84,327.00 69.10,325.68 69.36,322.23 69.62,317.96 69.88,314.51 70.13,313.19 70.40,313.86 70.66,315.69 70.92,318.19 71.19,320.69 71.45,322.53 71.71,323.20 71.97,322.66 72.23,321.18 72.49,319.17 72.74,317.16 73.00,315.68 73.26,315.14 73.52,315.58 73.79,316.79 74.05,318.43 74.32,320.07 74.58,321.27 74.85,321.71 75.11,321.34 75.38,320.34 75.64,318.97 75.90,317.60 76.17,316.60 76.43,316.23 76.69,316.64 76.95,317.73 77.21,319.06 77.47,320.15 77.72,320.56 78.02,320.10 78.31,318.89 78.61,317.39 78.90,316.18 79.20,315.72 79.47,316.12 79.75,317.18 80.03,318.49 80.30,319.55 80.58,319.95 80.87,319.54 81.17,318.46 81.46,317.13 81.75,316.05 82.04,315.64 82.34,316.05 82.63,317.12 82.93,318.44 83.23,319.52 83.52,319.93 83.79,319.42 84.06,318.09 84.33,316.45 84.60,315.13 84.87,314.62 85.12,315.11 85.38,316.40 85.63,317.99 85.89,319.28 86.14,319.77 86.40,319.36 86.65,318.25 86.90,316.73 87.16,315.22 87.41,314.11 87.67,313.70 87.96,314.31 88.26,315.91 88.56,317.89 88.86,319.49 89.16,320.10 89.42,319.69 89.68,318.54 89.95,316.97 90.21,315.41 90.48,314.26 90.74,313.84 91.04,314.50 91.34,316.22 91.64,318.34 91.94,320.06 92.23,320.71 92.49,320.10 92.74,318.49 92.99,316.50 93.24,314.89 93.49,314.28 93.75,314.77 94.00,316.11 94.26,317.94 94.52,319.77 94.78,321.11 95.03,321.60 95.32,320.93 95.60,319.19 95.89,317.04 96.17,315.29 96.46,314.63 96.72,315.04 96.99,316.16 97.25,317.69 97.52,319.22 97.78,320.34 98.05,320.75 98.32,320.16 98.59,318.63 98.87,316.74 99.14,315.20 99.41,314.62 99.68,315.20 99.96,316.73 100.23,318.63 100.50,320.16 100.78,320.74 101.04,320.21 101.30,318.77 101.57,316.80 101.83,314.83 102.09,313.38 102.36,312.85 102.62,313.62 102.89,315.61 103.15,318.08 103.42,320.07 103.69,320.84 103.94,319.99 104.19,317.77 104.45,315.03 104.70,312.82 104.95,311.97 105.21,312.81 105.46,315.00 105.71,317.70 105.96,319.89 106.21,320.73 106.52,319.32 106.82,315.90 107.13,312.49 107.43,311.07 107.69,311.73 107.94,313.54 108.20,316.00 108.46,318.46 108.71,320.26 108.97,320.92 109.25,319.99 109.53,317.55 109.82,314.53 110.10,312.09 110.38,311.16 110.66,312.28 110.94,315.22 111.22,318.84 111.50,321.78 111.78,322.90 112.09,320.89 112.39,316.04 112.70,311.19 113.01,309.18 113.27,310.60 113.53,314.31 113.80,318.90 114.06,322.61 114.32,324.03 114.62,321.73 114.93,316.17 115.23,310.60 115.53,308.30 115.79,309.83 116.04,313.83 116.30,318.78 116.55,322.78 116.80,324.31 117.07,323.36 117.33,320.77 117.59,317.22 117.86,313.68 118.12,311.09 118.38,310.14 118.66,311.65 118.94,315.62 119.22,320.52 119.50,324.49 119.78,326.00 120.07,324.66 120.36,321.16 120.66,316.84 120.95,313.33 121.25,312.00 121.51,313.16 121.78,316.20 122.05,319.95 122.31,322.99 122.58,324.15 122.85,323.14 123.12,320.49 123.39,317.22 123.66,314.58 123.94,313.57 124.24,314.46 124.54,316.82 124.84,319.73 125.14,322.09 125.44,322.98 125.73,322.14 126.03,319.93 126.32,317.19 126.62,314.98 126.92,314.14 127.21,315.31 127.51,318.15 127.81,320.99 128.11,322.16 128.36,321.48 128.61,319.69 128.86,317.47 129.11,315.68 129.36,314.99 129.62,315.64 129.87,317.34 130.13,319.43 130.38,321.13 130.64,321.77 130.89,321.05 131.15,319.17 131.40,316.84 131.66,314.96 131.92,314.24 132.18,314.71 132.44,315.99 132.70,317.74 132.96,319.49 133.22,320.78 133.48,321.25 133.75,320.55 134.02,318.74 134.29,316.50 134.55,314.68 134.82,313.99 135.12,314.64 135.41,316.34 135.71,318.45 136.00,320.15 136.30,320.81 136.56,320.26 136.83,318.78 137.09,316.75 137.36,314.73 137.62,313.24 137.88,312.70 138.18,313.45 138.48,315.40 138.78,317.81 139.07,319.77 139.37,320.51 139.63,320.15 139.88,319.15 140.14,317.78 140.40,316.42 140.65,315.42 140.91,315.05 141.17,315.46 141.43,316.56 141.69,318.07 141.94,319.58 142.20,320.68 142.46,321.08 142.76,320.41 143.06,318.64 143.36,316.46 143.66,314.69 143.96,314.01 144.22,314.76 144.49,316.73 144.75,319.17 145.02,321.13 145.28,321.89 145.58,320.65 145.89,317.68 146.19,314.71 146.49,313.48 146.77,314.35 147.06,316.64 147.34,319.48 147.62,321.77 147.90,322.65 148.16,321.90 148.42,319.83 148.67,317.02 148.93,314.20 149.19,312.14 149.44,311.39 149.73,312.51 150.01,315.44 150.30,319.07 150.58,322.01 150.87,323.13 151.16,321.71 151.44,318.01 151.73,313.42 152.02,309.72 152.31,308.30 152.59,309.85 152.87,313.90 153.16,318.90 153.44,322.95 153.72,324.50 154.00,323.18 154.28,319.73 154.56,315.47 154.84,312.02 155.12,310.70 155.37,311.84 155.63,314.82 155.89,318.50 156.15,321.47 156.41,322.61 156.70,321.65 157.00,319.12 157.29,315.99 157.59,313.46 157.88,312.50 158.15,313.13 158.42,314.87 158.69,317.24 158.95,319.61 159.22,321.34 159.49,321.98 159.75,321.39 160.02,319.80 160.28,317.62 160.55,315.44 160.81,313.85 161.08,313.27 161.36,314.03 161.63,316.04 161.91,318.53 162.18,320.54 162.46,321.30 162.76,319.96 163.06,316.73 163.36,313.49 163.67,312.15 163.92,313.16 164.18,315.80 164.44,319.08 164.70,321.72 164.96,322.73 165.21,321.42 165.46,317.98 165.71,313.74 165.97,310.30 166.22,308.99 166.48,310.36 166.74,313.94 167.00,318.37 167.25,321.95 167.51,323.32 167.77,321.71 168.02,317.50 168.28,312.29 168.53,308.07 168.78,306.47 169.06,308.41 169.34,313.51 169.62,319.82 169.90,324.92 170.18,326.86 170.46,324.66 170.74,318.89 171.01,311.77 171.29,306.00 171.56,303.80 171.84,306.77 172.12,314.54 172.40,324.16 172.68,331.93 172.96,334.90 173.21,332.21 173.47,325.18 173.72,316.48 173.98,309.45 174.23,306.76 174.49,308.82 174.75,314.20 175.01,320.85 175.27,326.22 175.53,328.28 175.80,326.52 176.06,321.92 176.33,316.24 176.59,311.64 176.86,309.88 177.12,310.92 177.38,313.77 177.65,317.66 177.91,321.54 178.18,324.39 178.44,325.43 178.69,324.06 178.94,320.47 179.20,316.03 179.45,312.43 179.70,311.06 180.01,312.86 180.31,317.19 180.61,321.53 180.92,323.32 181.19,322.14 181.46,319.04 181.74,315.21 182.01,312.11 182.28,310.93 182.55,311.82 182.82,314.27 183.08,317.62 183.35,320.97 183.62,323.42 183.89,324.32 184.14,323.15 184.40,320.11 184.66,316.34 184.92,313.29 185.18,312.13 185.44,312.87 185.70,314.87 185.97,317.62 186.23,320.36 186.49,322.37 186.75,323.10 187.01,322.46 187.27,320.69 187.53,318.29 187.79,315.88 188.04,314.12 188.30,313.48 188.56,314.17 188.81,316.05 189.06,318.62 189.32,321.19 189.57,323.07 189.82,323.76 190.11,322.63 190.40,319.65 190.69,315.98 190.98,313.00 191.27,311.87 191.58,313.76 191.89,318.32 192.20,322.88 192.51,324.77 192.76,323.77 193.02,321.03 193.28,317.28 193.53,313.54 193.79,310.80 194.04,309.80 194.31,311.27 194.58,315.12 194.86,319.88 195.13,323.73 195.40,325.20 195.67,323.88 195.94,320.42 196.20,316.15 196.47,312.69 196.74,311.37 197.02,312.60 197.29,315.81 197.56,319.79 197.84,323.00 198.11,324.23 198.38,323.21 198.65,320.55 198.91,317.26 199.18,314.59 199.45,313.58 199.71,314.61 199.97,317.31 200.24,320.66 200.50,323.36 200.76,324.40 201.06,322.70 201.37,318.60 201.67,314.50 201.97,312.80 202.25,313.93 202.52,316.87 202.80,320.51 203.07,323.46 203.35,324.59 203.60,323.40 203.85,320.29 204.10,316.45 204.35,313.34 204.61,312.15 204.92,314.28 205.23,319.42 205.54,324.57 205.85,326.70 206.12,325.65 206.38,322.77 206.65,318.85 206.91,314.92 207.18,312.04 207.44,310.99 207.71,312.35 207.99,315.90 208.26,320.29 208.53,323.84 208.80,325.20 209.10,322.75 209.40,316.82 209.70,310.89 210.00,308.44 210.26,309.56 210.53,312.61 210.79,316.79 211.05,320.96 211.32,324.01 211.58,325.13 211.84,323.24 212.10,318.28 212.36,312.15 212.62,307.19 212.88,305.30 213.14,307.35 213.40,312.71 213.66,319.33 213.92,324.69 214.18,326.74 214.44,325.57 214.71,322.39 214.97,318.05 215.23,313.70 215.50,310.52 215.76,309.35 216.05,310.94 216.33,315.11 216.61,320.26 216.89,324.42 217.17,326.01 217.45,324.45 217.72,320.35 217.99,315.29 218.26,311.19 218.53,309.63 218.83,311.27 219.13,315.58 219.43,320.90 219.73,325.21 220.02,326.85 220.29,325.29 220.56,321.19 220.82,316.13 221.09,312.03 221.35,310.47 221.62,312.26 221.89,316.96 222.17,322.77 222.44,327.47 222.71,329.26 222.96,327.93 223.21,324.30 223.47,319.34 223.72,314.38 223.97,310.75 224.23,309.42 224.50,311.50 224.78,316.94 225.05,323.67 225.33,329.12 225.60,331.20 225.87,328.66 226.14,322.01 226.41,313.79 226.68,307.14 226.95,304.60 227.23,306.82 227.51,312.64 227.79,319.82 228.07,325.64 228.35,327.86 228.64,325.80 228.93,320.41 229.21,313.74 229.50,308.35 229.79,306.29 230.05,307.61 230.30,311.19 230.56,316.10 230.81,321.00 231.07,324.59 231.32,325.90 231.58,324.08 231.85,319.31 232.11,313.42 232.38,308.65 232.64,306.83 232.92,308.80 233.20,313.96 233.48,320.34 233.76,325.50 234.04,327.47 234.35,324.89 234.67,318.66 234.98,312.42 235.29,309.84 235.57,311.25 235.85,314.94 236.12,319.51 236.40,323.20 236.68,324.61 236.94,323.78 237.20,321.51 237.46,318.41 237.72,315.31 237.98,313.04 238.24,312.21 238.52,313.36 238.80,316.39 239.08,320.13 239.36,323.15 239.65,324.31 239.91,322.90 240.18,319.22 240.45,314.68 240.71,311.00 240.98,309.59 241.25,311.14 241.52,315.20 241.79,320.21 242.07,324.26 242.34,325.81 242.64,322.98 242.93,316.14 243.23,309.30 243.53,306.47 243.80,307.80 244.06,311.44 244.33,316.42 244.59,321.40 244.86,325.04 245.12,326.37 245.38,324.21 245.63,318.53 245.89,311.52 246.14,305.84 246.40,303.67 246.65,305.91 246.90,311.77 247.16,319.00 247.41,324.86 247.67,327.10 247.97,323.56 248.27,315.03 248.57,306.50 248.87,302.97 249.12,305.36 249.37,311.61 249.62,319.34 249.88,325.60 250.13,327.99 250.38,325.97 250.64,320.46 250.90,312.94 251.16,305.42 251.41,299.92 251.67,297.90 251.93,299.99 252.18,305.69 252.44,313.48 252.69,321.26 252.95,326.97 253.21,329.05 253.51,325.51 253.81,316.96 254.12,308.41 254.42,304.87 254.68,306.79 254.95,312.01 255.21,319.15 255.47,326.28 255.74,331.51 256.00,333.42 256.30,329.34 256.60,319.50 256.90,309.66 257.20,305.58 257.46,308.06 257.71,314.55 257.97,322.57 258.23,329.06 258.48,331.54 258.77,329.35 259.06,323.62 259.34,316.53 259.63,310.79 259.92,308.60 260.19,309.97 260.45,313.72 260.72,318.85 260.99,323.97 261.25,327.72 261.52,329.09 261.80,326.61 262.09,320.11 262.38,312.08 262.66,305.58 262.95,303.10 263.21,305.40 263.47,311.42 263.73,318.86 263.99,324.89 264.26,327.19 264.52,325.79 264.79,321.99 265.06,316.80 265.33,311.61 265.60,307.81 265.86,306.42 266.17,309.12 266.48,315.64 266.78,322.16 267.09,324.86 267.38,323.42 267.68,319.64 267.97,314.98 268.26,311.20 268.56,309.76 268.85,311.13 269.14,314.73 269.44,319.17 269.73,322.76 270.02,324.14 270.29,322.52 270.55,318.31 270.81,313.09 271.08,308.87 271.34,307.26 271.65,310.17 271.95,317.20 272.26,324.22 272.56,327.13 272.81,324.97 273.07,319.30 273.32,312.30 273.57,306.64 273.83,304.47 274.09,306.12 274.35,310.62 274.61,316.77 274.87,322.92 275.13,327.42 275.39,329.07 275.65,326.14 275.91,318.48 276.17,309.01 276.43,301.34 276.69,298.42 276.95,300.72 277.22,307.01 277.49,315.61 277.76,324.21 278.03,330.50 278.30,332.81 278.55,330.27 278.80,323.36 279.06,313.90 279.31,304.45 279.57,297.53 279.82,295.00 280.11,298.88 280.39,309.03 280.68,321.57 280.97,331.72 281.26,335.60 281.56,330.42 281.87,317.92 282.18,305.43 282.48,300.25 282.76,303.19 283.05,310.88 283.33,320.39 283.61,328.09 283.89,331.03 284.19,328.91 284.49,323.38 284.79,316.54 285.09,311.00 285.39,308.89 285.65,310.79 285.90,315.77 286.16,321.92 286.41,326.90 286.67,328.80 286.93,327.14 287.20,322.80 287.46,317.44 287.72,313.11 287.99,311.45 288.29,313.42 288.60,318.16 288.90,322.91 289.21,324.88 289.49,323.61 289.78,320.30 290.06,316.20 290.35,312.89 290.63,311.63 290.89,312.69 291.16,315.49 291.42,318.94 291.68,321.73 291.94,322.80 292.19,321.68 292.45,318.76 292.70,315.15 292.95,312.23 293.20,311.11 293.46,311.85 293.73,313.87 294.00,316.64 294.26,319.40 294.53,321.42 294.79,322.16 295.07,321.36 295.34,319.27 295.62,316.68 295.89,314.59 296.17,313.79 296.43,314.51 296.70,316.38 296.97,318.70 297.24,320.58 297.50,321.29 297.77,320.50 298.04,318.43 298.31,315.87 298.58,313.79 298.85,313.00 299.10,313.58 299.35,315.16 299.60,317.32 299.86,319.48 300.11,321.06 300.36,321.64 300.63,320.87 300.91,318.86 301.19,316.36 301.47,314.35 301.74,313.58 302.01,314.14 302.27,315.68 302.53,317.78 302.79,319.88 303.05,321.42 303.32,321.98 303.63,320.80 303.94,317.97 304.25,315.13 304.56,313.96 304.85,314.73 305.15,316.77 305.44,319.28 305.73,321.32 306.03,322.10 306.29,321.59 306.56,320.21 306.82,318.32 307.09,316.43 307.35,315.05 307.62,314.54 307.87,315.22 308.13,317.00 308.38,319.20 308.63,320.99 308.89,321.67 309.17,320.91 309.46,318.93 309.74,316.48 310.03,314.50 310.31,313.74 310.60,314.51 310.88,316.52 311.16,319.00 311.45,321.00 311.73,321.77 311.99,321.02 312.25,319.05 312.51,316.61 312.77,314.64 313.02,313.88 313.31,314.68 313.60,316.77 313.89,319.35 314.17,321.44 314.46,322.24 314.71,321.43 314.97,319.32 315.22,316.71 315.47,314.60 315.73,313.79 316.00,314.52 316.26,316.44 316.53,318.81 316.80,320.72 317.07,321.45 317.34,320.62 317.62,318.46 317.90,315.78 318.17,313.61 318.45,312.79 318.74,313.67 319.04,315.99 319.34,318.85 319.64,321.17 319.93,322.05 320.23,320.38 320.53,316.34 320.83,312.29 321.13,310.62 321.43,312.17 321.74,315.92 322.05,319.67 322.36,321.22 322.63,320.06 322.91,317.00 323.19,313.22 323.47,310.17 323.75,309.00 324.01,310.37 324.26,313.97 324.52,318.42 324.77,322.02 325.03,323.39 325.29,322.56 325.54,320.28 325.80,317.16 326.06,314.05 326.32,311.77 326.57,310.94 326.82,312.22 327.08,315.57 327.33,319.72 327.58,323.08 327.83,324.36 328.08,322.98 328.33,319.37 328.58,314.91 328.83,311.30 329.08,309.92 329.34,310.93 329.60,313.68 329.86,317.45 330.12,321.21 330.37,323.97 330.63,324.98 330.90,323.57 331.18,319.88 331.45,315.31 331.72,311.62 331.99,310.21 332.27,311.49 332.54,314.86 332.81,319.02 333.08,322.39 333.35,323.68 333.66,321.90 333.97,317.63 334.27,313.35 334.58,311.58 334.88,312.62 335.17,315.34 335.47,318.70 335.76,321.42 336.05,322.46" fill="none" stroke="#2323d2" stroke-width="1.1" stroke-linejoin="round" clip-path="url(#cL4)"/>
<path d="M378.00,342.40 379.70,341.65 381.41,342.21 383.11,342.21 384.81,342.37 386.52,342.06 388.22,342.20 389.93,341.74 391.63,342.29 393.33,341.82 395.04,342.18 396.74,342.34 398.44,342.25 400.15,341.72 401.85,342.18 403.56,342.20 405.26,342.27 406.96,342.07 408.67,342.33 410.37,341.68 412.07,342.25 413.78,341.89 415.48,342.33 417.19,341.77 418.89,342.38 420.59,341.53 422.30,342.26 424.00,342.23 425.70,342.28 427.41,341.76 429.11,342.18 430.81,341.62 432.52,342.19 434.22,342.06 435.93,342.32 437.63,341.77 439.33,342.28 441.04,341.92 442.74,342.17 444.44,342.30 446.15,342.39 447.85,342.17 449.56,342.29 451.26,342.13 452.96,342.16 454.67,341.99 456.37,342.30 458.07,342.06 459.78,342.24 461.48,341.97 463.19,342.37 464.89,341.95 466.59,342.20 468.30,341.71 470.00,342.40 471.73,341.50 473.46,342.26 475.19,341.60 476.92,342.16 478.65,342.26 480.38,342.12 482.12,341.40 483.85,342.20 485.58,341.90 487.31,342.17 489.04,341.58 490.77,341.97 492.50,342.20 494.21,341.89 495.93,341.95 497.64,341.27 499.36,341.67 501.07,340.97 502.79,341.56 504.50,341.70 506.75,340.30 509.00,340.20 513.50,339.50 516.50,340.70 520.20,339.20 523.20,340.20 524.70,341.70 527.00,334.20 528.50,341.00 530.70,338.70 533.00,337.20 536.60,335.00 538.70,334.10 540.20,335.30 541.60,333.60 543.40,335.30 544.60,334.10 545.30,335.00 546.70,317.10 548.20,332.40 549.70,319.30 551.50,331.00 553.00,318.10 554.00,325.10 555.00,289.00 556.20,303.30 557.40,319.30 558.80,326.60 560.60,324.40 562.30,329.50 563.50,336.00 565.20,333.10 567.10,339.00 569.30,339.70 571.50,339.00 573.40,331.20 575.10,337.50 578.00,340.00 582.40,340.40 584.60,340.49 586.80,341.10 588.95,340.51 591.10,340.40 593.30,340.82 595.50,341.90 597.75,341.44 600.00,342.30 601.72,341.81 603.44,342.19 605.16,341.94 606.88,342.14 608.59,341.71 610.31,342.17 612.03,341.44 613.75,342.08 615.47,341.89 617.19,342.24 618.91,341.93 620.62,342.32 622.34,341.89 624.06,342.31 625.78,341.58 627.50,342.24 629.22,342.13 630.94,342.24 632.66,342.12 634.38,342.33 636.09,341.90 637.81,342.25 639.53,342.14 641.25,342.28 642.97,342.09 644.69,342.14 646.41,342.07 648.12,342.29 649.84,342.16 651.56,342.18 653.28,341.82 655.00,342.40" fill="none" stroke="#2323d2" stroke-width="1.2" stroke-linejoin="round" clip-path="url(#cR4)"/>
<line x1="554.40" y1="279.78" x2="554.40" y2="342.73" stroke="#e8302a" stroke-opacity="0.8" stroke-width="1.5" stroke-dasharray="6.5,3.2" stroke-dashoffset="0.9"/>
<line x1="37.45" y1="292.3" x2="40.45" y2="292.3" stroke="#111" stroke-width="1"/>
<text transform="translate(34.95,297.30) scale(1,1.0)" class="tk" text-anchor="end">1</text>
<line x1="37.45" y1="317.4" x2="40.45" y2="317.4" stroke="#111" stroke-width="1"/>
<text transform="translate(34.95,322.40) scale(1,1.0)" class="tk" text-anchor="end">0</text>
<line x1="37.45" y1="342.4" x2="40.45" y2="342.4" stroke="#111" stroke-width="1"/>
<text transform="translate(34.95,347.40) scale(1,1.0)" class="tk" text-anchor="end">-1</text>
<line x1="377.6" y1="300.4" x2="380.6" y2="300.4" stroke="#111" stroke-width="1"/>
<text transform="translate(375.10,305.40) scale(1,1.0)" class="tk" text-anchor="end">0.1</text>
<line x1="377.6" y1="342.4" x2="380.6" y2="342.4" stroke="#111" stroke-width="1"/>
<text transform="translate(375.10,347.40) scale(1,1.0)" class="tk" text-anchor="end">0.0</text>
<text transform="translate(299.80,295.50) scale(1,1.0)" class="imf" text-anchor="start">IMF5</text>
<text transform="translate(638.30,295.20) scale(1,1.0)" class="imf" text-anchor="start">IMF5</text>
<clipPath id="cL5"><rect x="37.45" y="349.20000000000005" width="299.5" height="62.94999999999999"/></clipPath>
<clipPath id="cR5"><rect x="377.6" y="349.20000000000005" width="300.0" height="64.14999999999999"/></clipPath>
<rect x="37.45" y="349.20000000000005" width="299.5" height="62.94999999999999" fill="none" stroke="#111" stroke-width="1.5"/>
<rect x="377.6" y="349.20000000000005" width="300.0" height="62.94999999999999" fill="none" stroke="#111" stroke-width="1.5"/>
<line x1="37.45" y1="412.15000000000003" x2="37.45" y2="409.15000000000003" stroke="#111" stroke-width="1"/>
<line x1="97.35" y1="412.15000000000003" x2="97.35" y2="409.15000000000003" stroke="#111" stroke-width="1"/>
<line x1="157.25" y1="412.15000000000003" x2="157.25" y2="409.15000000000003" stroke="#111" stroke-width="1"/>
<line x1="217.14999999999998" y1="412.15000000000003" x2="217.14999999999998" y2="409.15000000000003" stroke="#111" stroke-width="1"/>
<line x1="277.05" y1="412.15000000000003" x2="277.05" y2="409.15000000000003" stroke="#111" stroke-width="1"/>
<line x1="336.95" y1="412.15000000000003" x2="336.95" y2="409.15000000000003" stroke="#111" stroke-width="1"/>
<line x1="377.60" y1="412.15000000000003" x2="377.60" y2="409.15000000000003" stroke="#111" stroke-width="1"/>
<line x1="410.93" y1="412.15000000000003" x2="410.93" y2="409.15000000000003" stroke="#111" stroke-width="1"/>
<line x1="444.27" y1="412.15000000000003" x2="444.27" y2="409.15000000000003" stroke="#111" stroke-width="1"/>
<line x1="477.60" y1="412.15000000000003" x2="477.60" y2="409.15000000000003" stroke="#111" stroke-width="1"/>
<line x1="510.93" y1="412.15000000000003" x2="510.93" y2="409.15000000000003" stroke="#111" stroke-width="1"/>
<line x1="544.27" y1="412.15000000000003" x2="544.27" y2="409.15000000000003" stroke="#111" stroke-width="1"/>
<line x1="577.60" y1="412.15000000000003" x2="577.60" y2="409.15000000000003" stroke="#111" stroke-width="1"/>
<line x1="610.93" y1="412.15000000000003" x2="610.93" y2="409.15000000000003" stroke="#111" stroke-width="1"/>
<line x1="644.27" y1="412.15000000000003" x2="644.27" y2="409.15000000000003" stroke="#111" stroke-width="1"/>
<line x1="677.60" y1="412.15000000000003" x2="677.60" y2="409.15000000000003" stroke="#111" stroke-width="1"/>
<path d="M37.00,377.84 38.10,391.76 39.20,373.23 40.40,392.77 41.49,368.40 42.51,388.12 43.78,375.82 45.10,391.36 46.34,376.13 47.39,389.29 48.52,374.10 49.54,385.47 50.69,373.97 51.85,384.23 53.13,376.54 54.26,385.29 55.35,376.39 56.63,384.35 57.79,375.50 58.87,385.55 59.97,376.31 61.25,383.68 62.53,372.94 63.81,385.01 64.87,369.20 66.00,391.30 67.22,370.71 68.53,386.80 69.59,371.63 70.60,387.52 71.74,374.35 72.90,387.97 74.10,375.80 75.28,383.87 76.41,377.05 77.70,383.60 78.86,378.43 80.06,382.02 81.22,379.49 82.39,381.93 83.64,378.93 84.96,382.38 85.96,379.01 87.22,382.41 88.36,378.95 89.52,382.12 90.83,377.77 91.90,383.71 92.95,378.18 94.18,386.95 95.22,371.71 96.34,387.44 97.42,374.83 98.66,388.20 99.88,368.40 100.90,392.10 102.21,373.98 103.52,384.97 104.70,376.02 106.02,385.38 107.30,375.79 108.43,384.07 109.71,376.70 110.96,384.82 111.95,378.03 113.12,382.91 114.30,376.17 115.40,385.57 116.45,374.80 117.73,387.99 118.86,375.10 119.87,389.49 121.16,373.85 122.40,387.34 123.64,374.96 124.87,391.30 125.98,371.40 126.97,386.65 128.26,375.26 129.28,386.62 130.52,375.72 131.82,385.05 132.98,375.69 134.24,383.44 135.30,378.07 136.50,382.70 137.80,380.14 138.96,382.77 140.08,379.21 141.14,383.05 142.18,379.36 143.24,382.66 144.45,377.98 145.48,383.23 146.59,378.11 147.79,383.59 148.97,376.36 149.99,385.30 151.09,377.24 152.18,386.70 153.46,374.01 154.70,386.83 155.72,374.33 156.90,389.80 157.97,371.82 158.98,388.55 160.10,366.90 161.20,393.50 162.52,370.91 163.66,389.40 164.85,372.21 166.03,391.69 167.08,368.40 168.11,387.10 169.25,376.30 170.36,390.73 171.46,372.80 172.73,388.42 173.89,376.96 174.90,385.06 175.93,378.24 177.02,385.40 178.09,377.56 179.39,386.33 180.57,378.25 181.82,387.18 182.83,373.95 184.13,385.73 185.17,371.55 186.31,385.74 187.50,369.97 188.73,387.28 189.72,370.65 190.92,395.27 192.15,369.53 193.43,392.10 194.46,373.71 195.56,394.77 196.73,374.13 198.02,392.89 199.02,368.24 200.06,386.27 201.17,368.28 202.24,389.58 203.51,372.00 204.71,389.52 205.71,367.15 206.92,395.00 208.06,365.50 209.27,386.75 210.28,372.96 211.30,390.25 212.42,369.73 213.58,389.97 214.80,374.26 215.80,387.92 217.08,370.52 218.09,386.15 219.11,373.30 220.39,385.29 221.65,375.73 222.94,383.73 224.08,378.33 225.33,381.52 226.38,379.74 227.57,382.47 228.84,376.83 229.96,383.58 231.02,376.27 232.17,385.49 233.46,370.60 234.63,385.33 235.94,373.80 236.97,387.07 238.20,375.10 239.52,388.69 240.77,372.35 241.99,388.30 243.24,369.90 244.50,391.83 245.75,371.27 246.81,389.55 248.11,361.80 249.11,399.40 250.38,367.21 251.39,397.48 252.54,373.57 253.57,390.95 254.85,365.50 256.15,389.70 257.33,371.49 258.43,385.00 259.43,376.46 260.56,386.01 261.55,377.54 262.66,386.01 263.81,376.65 264.98,384.12 265.99,376.80 267.18,387.40 268.46,373.20 269.74,387.09 270.91,375.60 272.21,389.93 273.20,369.53 274.43,393.95 275.44,371.39 276.45,396.25 277.48,367.57 278.69,396.81 279.83,355.10 281.09,403.90 282.18,362.10 283.39,394.27 284.61,371.98 285.73,393.09 286.98,368.08 288.31,390.42 289.60,370.47 290.84,388.01 291.85,373.61 292.85,387.81 293.83,376.17 294.96,387.54 296.04,374.02 297.34,386.37 298.44,375.94 299.75,385.46 300.94,376.45 301.97,386.09 303.15,377.85 304.41,383.86 305.47,378.86 306.51,382.62 307.73,379.37 308.91,383.03 310.18,378.43 311.31,384.54 312.59,377.23 313.64,385.40 314.94,375.80 316.13,383.93 317.36,377.82 318.45,383.06 319.55,378.04 320.53,382.52 321.70,378.04 322.86,382.29 324.16,378.60 325.23,382.57 326.45,379.42 327.64,381.95 328.93,379.09 329.93,382.12 331.09,378.93 332.40,382.15 333.58,379.61 334.61,381.92 335.76,380.15 337.00,381.49" fill="none" stroke="#2323d2" stroke-width="1.1" stroke-linejoin="round" clip-path="url(#cL5)"/>
<path d="M378.00,411.60 379.75,410.95 381.50,411.28 383.25,411.47 385.00,411.40 386.75,411.14 388.50,411.46 390.25,410.63 392.00,411.34 393.75,410.88 395.50,411.39 397.25,410.91 399.00,411.23 400.75,411.24 402.50,411.35 404.25,411.09 406.00,411.25 407.75,410.93 409.50,411.23 411.25,410.76 413.00,411.11 414.75,410.60 416.50,411.14 418.25,410.51 420.00,411.30 421.74,410.92 423.48,411.19 425.22,411.07 426.96,411.07 428.70,410.90 430.43,411.16 432.17,410.63 433.91,411.16 435.65,410.58 437.39,411.07 439.13,410.75 440.87,411.06 442.61,410.61 444.35,411.14 446.09,410.58 447.83,411.16 449.57,410.97 451.30,411.05 453.04,411.05 454.78,411.03 456.52,410.35 458.26,410.95 460.00,411.20 461.74,410.87 463.48,411.14 465.22,410.90 466.96,410.96 468.70,410.59 470.43,410.98 472.17,410.34 473.91,411.12 475.65,410.23 477.39,410.97 479.13,410.68 480.87,410.88 482.61,410.83 484.35,410.80 486.09,410.46 487.83,410.81 489.57,410.96 491.30,411.00 493.04,410.13 494.78,411.00 496.52,410.28 498.26,411.01 500.00,411.00 501.76,410.73 503.53,410.89 505.29,410.12 507.06,410.86 508.82,410.73 510.59,410.92 512.35,410.63 514.12,410.65 515.88,410.35 517.65,410.87 519.41,410.78 521.18,410.78 522.94,410.08 524.71,410.78 526.47,410.81 528.24,410.51 530.00,410.80 532.00,409.81 534.00,410.53 536.00,410.47 538.00,410.46 540.00,410.60 541.73,410.27 543.45,410.22 545.18,410.29 546.91,410.02 548.64,409.25 550.36,409.81 552.09,409.72 553.82,409.85 555.55,408.81 557.27,409.55 559.00,409.60 560.90,408.86 562.80,409.32 564.70,409.60 570.00,409.40 572.00,408.40 574.60,406.50 576.60,408.40 578.60,407.10 580.30,410.40 582.50,408.40 584.50,409.70 587.20,405.80 589.10,406.50 591.10,402.50 593.10,398.50 594.40,399.90 596.40,396.60 598.40,404.50 605.00,397.20 606.30,381.40 608.30,363.20 609.80,388.60 611.20,374.50 612.50,386.70 614.20,373.50 616.20,371.50 617.80,381.40 619.50,380.10 621.20,386.00 623.00,382.00 624.70,391.90 626.50,402.50 628.70,397.90 631.30,397.20 634.60,410.40 636.60,405.80 638.60,404.50 639.90,410.40 641.90,404.50 643.90,409.10 645.90,407.80 648.50,410.40 650.50,408.40 651.80,409.70 653.40,406.50 654.40,408.80" fill="none" stroke="#2323d2" stroke-width="1.2" stroke-linejoin="round" clip-path="url(#cR5)"/>
<line x1="612.50" y1="349.20" x2="612.50" y2="412.15" stroke="#e8302a" stroke-opacity="0.8" stroke-width="1.5" stroke-dasharray="6.5,3.2" stroke-dashoffset="0.9"/>
<line x1="37.45" y1="360.1" x2="40.45" y2="360.1" stroke="#111" stroke-width="1"/>
<text transform="translate(34.95,365.10) scale(1,1.0)" class="tk" text-anchor="end">0.5</text>
<line x1="37.45" y1="380.7" x2="40.45" y2="380.7" stroke="#111" stroke-width="1"/>
<text transform="translate(34.95,385.70) scale(1,1.0)" class="tk" text-anchor="end">0.0</text>
<line x1="37.45" y1="401.6" x2="40.45" y2="401.6" stroke="#111" stroke-width="1"/>
<text transform="translate(34.95,406.60) scale(1,1.0)" class="tk" text-anchor="end">-0.5</text>
<line x1="377.6" y1="370.2" x2="380.6" y2="370.2" stroke="#111" stroke-width="1"/>
<text transform="translate(375.10,375.20) scale(1,1.0)" class="tk" text-anchor="end">0.04</text>
<line x1="377.6" y1="411.8" x2="380.6" y2="411.8" stroke="#111" stroke-width="1"/>
<text transform="translate(375.10,416.80) scale(1,1.0)" class="tk" text-anchor="end">0.00</text>
<text transform="translate(298.60,364.80) scale(1,1.0)" class="imf" text-anchor="start">IMF6</text>
<text transform="translate(638.30,364.50) scale(1,1.0)" class="imf" text-anchor="start">IMF6</text>
<text transform="translate(384.20,33.50) scale(1,1.0)" class="cf" text-anchor="start">Center Freq = 0.1</text>
<text transform="translate(404.80,96.40) scale(1,1.0)" class="cf" text-anchor="start">Center Freq = 1.1</text>
<text transform="translate(441.35,163.90) scale(1,1.0)" class="cf" text-anchor="start">Center Freq = 3.3</text>
<text transform="translate(488.90,234.80) scale(1,1.0)" class="cf" text-anchor="start">Center Freq = 6.2</text>
<text transform="translate(423.30,311.90) scale(1,1.0)" class="cf" text-anchor="start">Center Freq = 10.6</text>
<text transform="translate(475.00,380.90) scale(1,1.0)" class="cf" text-anchor="start">Center Freq = 14.1</text>
<text transform="translate(37.45,425.75) scale(1,1.0)" class="tk" text-anchor="middle">0</text>
<text transform="translate(97.35,425.75) scale(1,1.0)" class="tk" text-anchor="middle">2</text>
<text transform="translate(157.25,425.75) scale(1,1.0)" class="tk" text-anchor="middle">4</text>
<text transform="translate(217.15,425.75) scale(1,1.0)" class="tk" text-anchor="middle">6</text>
<text transform="translate(277.05,425.75) scale(1,1.0)" class="tk" text-anchor="middle">8</text>
<text transform="translate(336.95,425.75) scale(1,1.0)" class="tk" text-anchor="middle">10</text>
<text transform="translate(377.60,425.75) scale(1,1.0)" class="tk" text-anchor="middle">0</text>
<text transform="translate(410.93,425.75) scale(1,1.0)" class="tk" text-anchor="middle">2</text>
<text transform="translate(444.27,425.75) scale(1,1.0)" class="tk" text-anchor="middle">4</text>
<text transform="translate(477.60,425.75) scale(1,1.0)" class="tk" text-anchor="middle">6</text>
<text transform="translate(510.93,425.75) scale(1,1.0)" class="tk" text-anchor="middle">8</text>
<text transform="translate(544.27,425.75) scale(1,1.0)" class="tk" text-anchor="middle">10</text>
<text transform="translate(577.60,425.75) scale(1,1.0)" class="tk" text-anchor="middle">12</text>
<text transform="translate(610.93,425.75) scale(1,1.0)" class="tk" text-anchor="middle">14</text>
<text transform="translate(644.27,425.75) scale(1,1.0)" class="tk" text-anchor="middle">16</text>
<text transform="translate(677.60,425.75) scale(1,1.0)" class="tk" text-anchor="middle">18</text>
<text transform="translate(187.00,442.00) scale(1,1.0)" class="ax" text-anchor="middle">Depth (m)</text>
<text transform="translate(533.00,442.00) scale(1,1.0)" class="ax" text-anchor="middle">Frequency (cycles/m)</text>
<text transform="translate(12.5,206.6) rotate(-90) scale(1,1.0)" class="ax" text-anchor="middle">Amplitude</text>
<text transform="translate(351.4,206.6) rotate(-90) scale(1,1.0)" class="ax" text-anchor="middle">Amplitude</text>
</svg>
</body></html>
